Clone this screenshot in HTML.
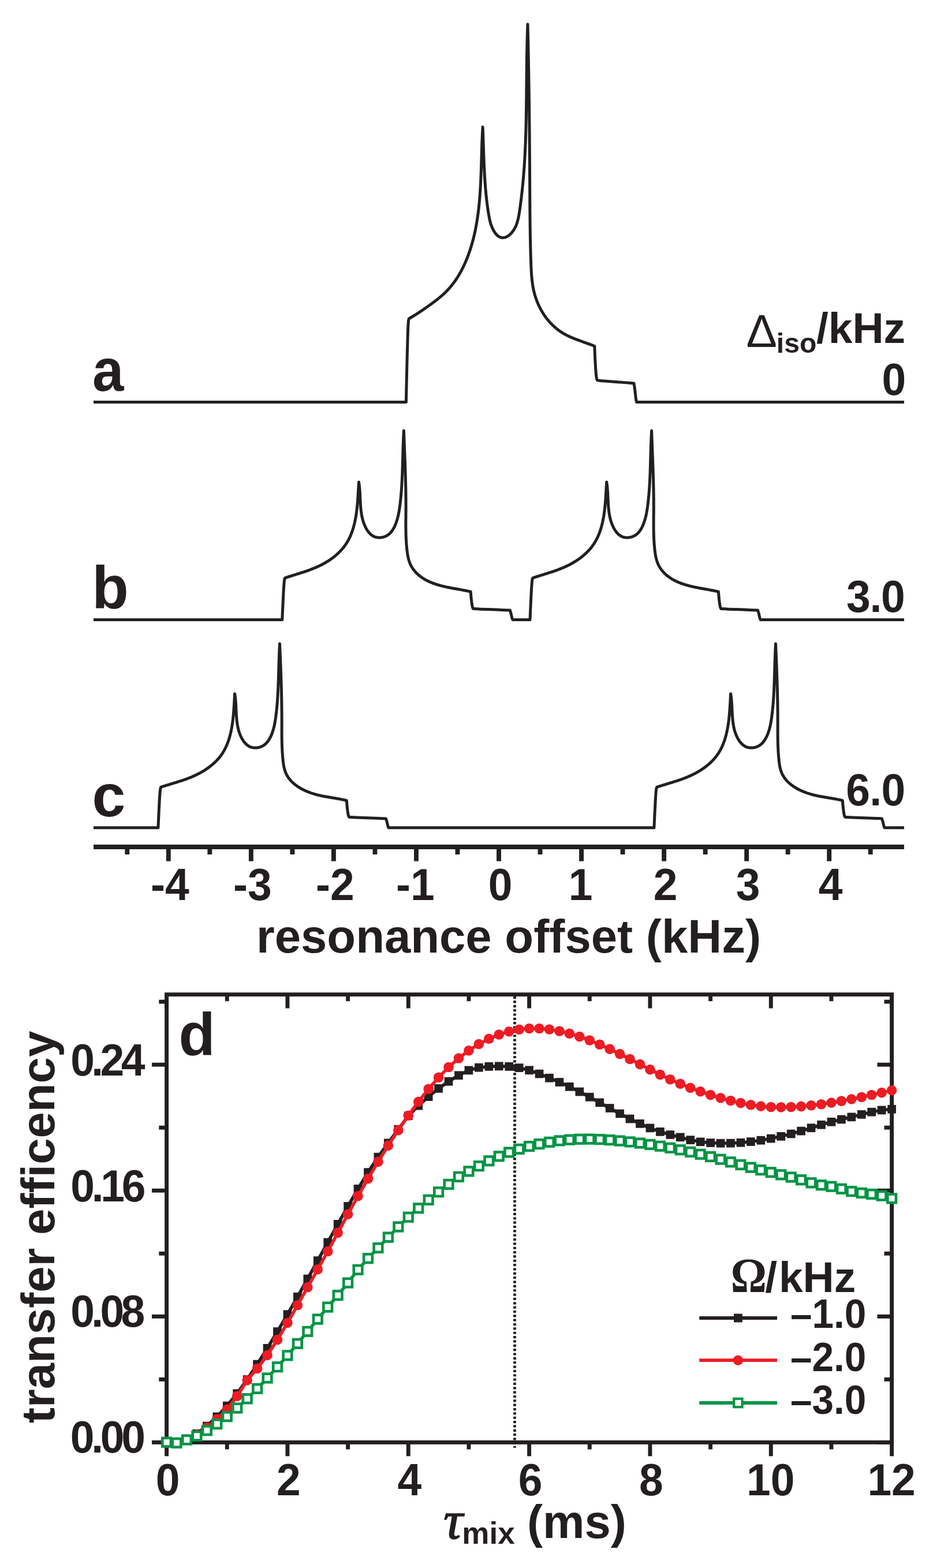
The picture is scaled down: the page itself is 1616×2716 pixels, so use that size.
<!DOCTYPE html><html><head><meta charset="utf-8"><title>Figure</title><style>html,body{margin:0;padding:0;background:#fff;overflow:hidden;}svg{display:block;}</style></head><body>
<svg width="1616" height="2716" viewBox="0 0 1616 2716">
<rect width="1616" height="2716" fill="#fff"/>
<path d="M162 696.6L703.4 696.6C703.55 689.83 703.98 669.77 704.3 656C704.62 642.23 704.97 626.83 705.3 614C705.63 601.17 705.97 588.33 706.3 579C706.63 569.67 706.97 562.5 707.3 558C707.63 553.5 708.13 553 708.3 552L709.6 551.25L710.89 550.5L712.18 549.74L713.46 548.97L714.74 548.2L716.02 547.42L717.29 546.63L718.56 545.84L719.83 545.04L721.09 544.24L722.35 543.43L723.61 542.61L724.87 541.79L726.12 540.96L727.38 540.13L728.63 539.3L729.88 538.46L731.12 537.61L732.37 536.76L733.61 535.91L734.86 535.05L736.1 534.19L737.34 533.32L738.58 532.46L739.83 531.58L741.07 530.71L742.31 529.83L743.55 528.95L744.78 528.06L746.02 527.17L747.26 526.28L748.49 525.38L749.72 524.48L750.94 523.57L752.16 522.65L753.38 521.73L754.59 520.81L755.8 519.88L757 518.94L758.19 517.99L759.38 517.04L760.56 516.08L761.73 515.11L762.89 514.13L764.05 513.14L765.19 512.15L766.33 511.15L767.45 510.13L768.57 509.11L769.67 508.08L770.76 507.04L771.84 505.98L772.91 504.92L773.97 503.84L775.01 502.76L776.04 501.66L777.05 500.55L778.06 499.43L779.05 498.3L780.02 497.16L780.99 496.02L781.94 494.86L782.88 493.69L783.81 492.51L784.73 491.32L785.63 490.12L786.52 488.91L787.4 487.7L788.27 486.47L789.12 485.24L789.97 484L790.8 482.75L791.62 481.49L792.43 480.23L793.23 478.95L794.02 477.67L794.8 476.39L795.56 475.09L796.32 473.79L797.06 472.48L797.8 471.16L798.52 469.84L799.23 468.51L799.93 467.18L800.63 465.84L801.31 464.49L801.98 463.14L802.64 461.78L803.29 460.42L803.93 459.06L804.56 457.68L805.19 456.31L805.8 454.93L806.4 453.54L807 452.15L807.58 450.76L808.16 449.36L808.72 447.96L809.28 446.55L809.83 445.14L810.37 443.73L810.9 442.32L811.42 440.9L811.93 439.48L812.44 438.06L812.94 436.64L813.42 435.21L813.9 433.78L814.38 432.35L814.84 430.92L815.3 429.49L815.75 428.05L816.19 426.61L816.62 425.17L817.05 423.73L817.46 422.29L817.88 420.84L818.28 419.39L818.67 417.94L819.06 416.49L819.44 415.04L819.82 413.59L820.19 412.13L820.55 410.67L820.9 409.21L821.25 407.75L821.59 406.29L821.92 404.83L822.24 403.36L822.57 401.9L822.88 400.43L823.19 398.96L823.49 397.49L823.78 396.01L824.07 394.54L824.35 393.06L824.63 391.59L824.9 390.11L825.17 388.63L825.42 387.15L825.68 385.66L825.93 384.18L826.17 382.7L826.41 381.21L826.64 379.72L826.86 378.24L827.08 376.75L827.3 375.26L827.51 373.76L827.72 372.27L827.92 370.78L828.11 369.28L828.31 367.79L828.49 366.29L828.67 364.79L828.85 363.29L829.03 361.79L829.19 360.29L829.36 358.79L829.52 357.29L829.67 355.79L829.83 354.28L829.97 352.78L830.12 351.27L830.26 349.77L830.39 348.26L830.53 346.75L830.65 345.25L830.78 343.74L830.9 342.23L831.02 340.72L831.14 339.21L831.25 337.7L831.36 336.18L831.46 334.67L831.56 333.16L831.66 331.65L831.76 330.13L831.85 328.62L831.94 327.1L832.03 325.59L832.12 324.07L832.2 322.56L832.28 321.04L832.36 319.53L832.44 318.01L832.51 316.5L832.58 314.98L832.65 313.46L832.72 311.95L832.79 310.43L832.85 308.91L832.91 307.39L832.97 305.88L833.03 304.36L833.09 302.84L833.15 301.32L833.2 299.81L833.25 298.29L833.31 296.77L833.36 295.25L833.41 293.74L833.46 292.22L833.5 290.7L833.55 289.19L833.6 287.67L833.64 286.15L833.69 284.64L833.73 283.12L833.78 281.61L833.82 280.09L833.86 278.58L833.91 277.06L833.95 275.55L833.99 274.03L834.03 272.52L834.08 271.01L834.12 269.5L834.16 267.98L834.21 266.47L834.25 264.96L834.29 263.45L834.34 261.94L834.38 260.43L834.43 258.92L834.48 257.42L834.52 255.91L834.57 254.4L834.62 252.9L834.67 251.39L834.72 249.89L834.78 248.39L834.83 246.88L834.89 245.38L834.94 243.88L835 242.38L835.06 240.88L835.12 239.38L835.18 237.89L835.25 236.39L835.32 234.89L835.38 233.4L835.45 231.91L835.53 230.41L835.6 228.92L835.68 227.43L835.76 225.94L835.84 224.46L835.92 222.97L836.01 221.48L836.1 220L836.16 221.51L836.23 223.02L836.29 224.53L836.35 226.04L836.41 227.55L836.46 229.06L836.52 230.57L836.57 232.08L836.63 233.59L836.68 235.09L836.74 236.6L836.79 238.11L836.84 239.62L836.89 241.12L836.94 242.63L836.99 244.14L837.04 245.64L837.09 247.15L837.14 248.66L837.19 250.16L837.24 251.67L837.29 253.17L837.34 254.68L837.39 256.18L837.44 257.69L837.49 259.19L837.54 260.7L837.59 262.2L837.64 263.71L837.69 265.21L837.74 266.71L837.79 268.22L837.84 269.72L837.9 271.22L837.95 272.73L838.01 274.23L838.06 275.73L838.12 277.23L838.18 278.74L838.24 280.24L838.3 281.74L838.36 283.24L838.42 284.74L838.48 286.24L838.55 287.75L838.62 289.25L838.69 290.75L838.76 292.25L838.83 293.75L838.9 295.25L838.98 296.75L839.05 298.25L839.13 299.75L839.21 301.25L839.3 302.75L839.38 304.25L839.47 305.75L839.56 307.25L839.65 308.75L839.74 310.25L839.84 311.74L839.94 313.24L840.04 314.74L840.15 316.24L840.25 317.74L840.36 319.24L840.48 320.73L840.59 322.23L840.71 323.73L840.83 325.23L840.96 326.73L841.08 328.22L841.21 329.72L841.35 331.22L841.49 332.72L841.63 334.21L841.77 335.71L841.92 337.21L842.07 338.71L842.22 340.2L842.38 341.7L842.55 343.2L842.71 344.69L842.88 346.19L843.06 347.69L843.23 349.18L843.42 350.68L843.6 352.18L843.79 353.67L843.99 355.17L844.19 356.66L844.39 358.16L844.6 359.66L844.81 361.15L845.03 362.65L845.25 364.14L845.48 365.64L845.71 367.14L845.95 368.63L846.19 370.13L846.43 371.62L846.69 373.12L846.95 374.61L847.23 376.1L847.52 377.59L847.82 379.08L848.15 380.57L848.49 382.05L848.86 383.52L849.25 384.99L849.67 386.46L850.11 387.92L850.59 389.37L851.1 390.82L851.65 392.25L852.23 393.69L852.85 395.11L853.52 396.52L854.23 397.92L854.98 399.32L855.78 400.69L856.63 402.04L857.52 403.34L858.46 404.59L859.44 405.78L860.46 406.88L861.54 407.9L862.65 408.82L863.81 409.63L865.01 410.31L866.25 410.86L867.53 411.27L868.83 411.55L870.16 411.7L871.5 411.71L872.84 411.6L874.18 411.35L875.52 410.97L876.84 410.46L878.13 409.83L879.41 409.09L880.65 408.26L881.85 407.34L883.01 406.35L884.14 405.31L885.21 404.22L886.23 403.1L887.19 401.95L888.11 400.78L888.98 399.57L889.81 398.35L890.59 397.09L891.33 395.81L892.02 394.51L892.68 393.19L893.3 391.84L893.88 390.48L894.43 389.09L894.95 387.69L895.44 386.28L895.89 384.85L896.32 383.4L896.72 381.94L897.1 380.47L897.46 378.99L897.79 377.5L898.11 376L898.41 374.49L898.69 372.98L898.96 371.46L899.21 369.94L899.46 368.41L899.69 366.88L899.92 365.35L900.14 363.82L900.36 362.3L900.58 360.77L900.79 359.25L901 357.72L901.21 356.2L901.41 354.69L901.61 353.17L901.81 351.66L902.01 350.14L902.2 348.63L902.39 347.12L902.58 345.62L902.77 344.11L902.95 342.6L903.13 341.1L903.31 339.6L903.49 338.1L903.66 336.6L903.83 335.1L904 333.6L904.17 332.1L904.33 330.6L904.49 329.11L904.65 327.61L904.8 326.12L904.96 324.63L905.11 323.14L905.26 321.64L905.41 320.15L905.55 318.66L905.69 317.17L905.83 315.68L905.97 314.19L906.11 312.7L906.24 311.21L906.37 309.72L906.5 308.23L906.63 306.74L906.75 305.25L906.87 303.76L906.99 302.27L907.11 300.78L907.23 299.29L907.34 297.8L907.46 296.31L907.57 294.82L907.67 293.32L907.78 291.83L907.89 290.34L907.99 288.84L908.09 287.35L908.19 285.86L908.29 284.36L908.38 282.87L908.47 281.37L908.57 279.88L908.66 278.38L908.74 276.88L908.83 275.39L908.92 273.89L909 272.39L909.08 270.89L909.16 269.4L909.24 267.9L909.32 266.4L909.39 264.9L909.46 263.4L909.54 261.9L909.61 260.4L909.67 258.9L909.74 257.4L909.81 255.9L909.87 254.4L909.94 252.89L910 251.39L910.06 249.89L910.12 248.39L910.17 246.89L910.23 245.38L910.28 243.88L910.34 242.38L910.39 240.87L910.44 239.37L910.49 237.86L910.54 236.36L910.59 234.86L910.63 233.35L910.68 231.85L910.72 230.34L910.77 228.83L910.81 227.33L910.85 225.82L910.89 224.32L910.93 222.81L910.96 221.3L911 219.8L911.04 218.29L911.07 216.78L911.11 215.28L911.14 213.77L911.17 212.26L911.2 210.75L911.23 209.25L911.26 207.74L911.29 206.23L911.32 204.72L911.35 203.21L911.37 201.7L911.4 200.2L911.42 198.69L911.45 197.18L911.47 195.67L911.49 194.16L911.52 192.65L911.54 191.14L911.56 189.63L911.58 188.12L911.6 186.61L911.62 185.1L911.64 183.59L911.66 182.08L911.67 180.57L911.69 179.06L911.71 177.55L911.73 176.04L911.74 174.53L911.76 173.02L911.77 171.51L911.79 170L911.8 168.49L911.82 166.98L911.83 165.47L911.85 163.96L911.86 162.45L911.88 160.94L911.89 159.43L911.9 157.92L911.92 156.41L911.93 154.9L911.94 153.39L911.96 151.88L911.97 150.37L911.98 148.86L911.99 147.35L912.01 145.84L912.02 144.33L912.03 142.82L912.04 141.31L912.06 139.8L912.07 138.29L912.08 136.78L912.1 135.27L912.11 133.76L912.12 132.25L912.14 130.74L912.15 129.23L912.17 127.72L912.18 126.21L912.19 124.71L912.21 123.2L912.23 121.69L912.24 120.18L912.26 118.67L912.27 117.16L912.29 115.65L912.31 114.15L912.32 112.64L912.34 111.13L912.36 109.62L912.38 108.11L912.4 106.61L912.42 105.1L912.44 103.59L912.46 102.08L912.48 100.58L912.51 99.07L912.53 97.56L912.55 96.06L912.58 94.55L912.6 93.05L912.63 91.54L912.65 90.04L912.68 88.53L912.71 87.03L912.74 85.52L912.77 84.02L912.8 82.51L912.83 81.01L912.86 79.5L912.89 78L912.93 76.5L912.96 74.99L913 73.49L913.03 71.99L913.07 70.49L913.11 68.98L913.15 67.48L913.19 65.98L913.23 64.48L913.27 62.98L913.32 61.48L913.36 59.98L913.41 58.48L913.46 56.98L913.51 55.48L913.56 53.98L913.61 52.48L913.66 50.98L913.71 49.49L913.77 47.99L913.82 46.49L913.88 44.99L913.94 43.5L914 42L914.04 43.5L914.07 45.01L914.11 46.51L914.14 48.01L914.18 49.51L914.22 51.02L914.25 52.52L914.28 54.02L914.32 55.53L914.35 57.03L914.39 58.53L914.42 60.04L914.46 61.54L914.49 63.05L914.52 64.55L914.56 66.05L914.59 67.56L914.62 69.06L914.65 70.57L914.69 72.07L914.72 73.58L914.75 75.08L914.78 76.58L914.81 78.09L914.84 79.59L914.88 81.1L914.91 82.6L914.94 84.11L914.97 85.61L915 87.12L915.03 88.62L915.06 90.13L915.09 91.64L915.12 93.14L915.15 94.65L915.17 96.15L915.2 97.66L915.23 99.16L915.26 100.67L915.29 102.18L915.32 103.68L915.34 105.19L915.37 106.69L915.4 108.2L915.43 109.71L915.45 111.21L915.48 112.72L915.51 114.22L915.53 115.73L915.56 117.24L915.59 118.74L915.61 120.25L915.64 121.76L915.66 123.26L915.69 124.77L915.71 126.28L915.74 127.78L915.76 129.29L915.79 130.8L915.81 132.3L915.84 133.81L915.86 135.32L915.89 136.83L915.91 138.33L915.93 139.84L915.96 141.35L915.98 142.85L916 144.36L916.02 145.87L916.05 147.37L916.07 148.88L916.09 150.39L916.11 151.9L916.14 153.4L916.16 154.91L916.18 156.42L916.2 157.93L916.22 159.43L916.24 160.94L916.26 162.45L916.28 163.96L916.31 165.46L916.33 166.97L916.35 168.48L916.37 169.99L916.39 171.49L916.41 173L916.43 174.51L916.44 176.02L916.46 177.52L916.48 179.03L916.5 180.54L916.52 182.05L916.54 183.55L916.56 185.06L916.58 186.57L916.59 188.08L916.61 189.58L916.63 191.09L916.65 192.6L916.66 194.11L916.68 195.61L916.7 197.12L916.72 198.63L916.73 200.13L916.75 201.64L916.77 203.15L916.78 204.66L916.8 206.16L916.81 207.67L916.83 209.18L916.85 210.69L916.86 212.19L916.88 213.7L916.89 215.21L916.91 216.71L916.92 218.22L916.94 219.73L916.95 221.24L916.97 222.74L916.98 224.25L917 225.76L917.01 227.26L917.02 228.77L917.04 230.28L917.05 231.78L917.07 233.29L917.08 234.8L917.09 236.3L917.11 237.81L917.12 239.32L917.13 240.82L917.14 242.33L917.16 243.84L917.17 245.34L917.18 246.85L917.19 248.36L917.21 249.86L917.22 251.37L917.23 252.87L917.24 254.38L917.25 255.89L917.27 257.39L917.28 258.9L917.29 260.4L917.3 261.91L917.31 263.42L917.32 264.92L917.33 266.43L917.34 267.93L917.35 269.44L917.36 270.94L917.37 272.45L917.38 273.95L917.39 275.46L917.4 276.96L917.41 278.47L917.42 279.97L917.43 281.48L917.44 282.98L917.45 284.49L917.46 285.99L917.47 287.5L917.48 289L917.49 290.51L917.49 292.01L917.5 293.51L917.51 295.02L917.52 296.52L917.53 298.03L917.54 299.53L917.54 301.03L917.55 302.54L917.56 304.04L917.57 305.54L917.58 307.05L917.58 308.55L917.59 310.05L917.6 311.56L917.6 313.06L917.61 314.56L917.62 316.07L917.63 317.57L917.63 319.07L917.64 320.57L917.65 322.08L917.65 323.58L917.66 325.08L917.67 326.58L917.67 328.08L917.68 329.59L917.69 331.09L917.69 332.59L917.7 334.09L917.71 335.59L917.72 337.1L917.72 338.6L917.73 340.1L917.74 341.6L917.75 343.1L917.75 344.61L917.76 346.11L917.77 347.61L917.78 349.11L917.79 350.61L917.8 352.12L917.81 353.62L917.82 355.12L917.83 356.62L917.84 358.12L917.85 359.63L917.86 361.13L917.87 362.63L917.88 364.13L917.89 365.64L917.9 367.14L917.91 368.64L917.93 370.14L917.94 371.65L917.95 373.15L917.97 374.65L917.98 376.16L917.99 377.66L918.01 379.16L918.03 380.67L918.04 382.17L918.06 383.67L918.07 385.18L918.09 386.68L918.11 388.19L918.13 389.69L918.15 391.19L918.17 392.7L918.19 394.2L918.21 395.71L918.23 397.21L918.25 398.72L918.27 400.22L918.3 401.73L918.32 403.24L918.34 404.74L918.37 406.25L918.39 407.75L918.42 409.26L918.45 410.77L918.48 412.28L918.5 413.78L918.53 415.29L918.56 416.8L918.59 418.31L918.62 419.81L918.66 421.32L918.69 422.83L918.72 424.34L918.76 425.85L918.79 427.36L918.83 428.87L918.87 430.38L918.91 431.89L918.94 433.4L918.98 434.91L919.02 436.42L919.07 437.93L919.11 439.45L919.15 440.96L919.2 442.47L919.24 443.98L919.29 445.5L919.34 447.01L919.38 448.52L919.43 450.04L919.48 451.55L919.53 453.07L919.59 454.58L919.64 456.1L919.7 457.61L919.75 459.13L919.81 460.65L919.87 462.16L919.94 463.68L920.01 465.19L920.08 466.71L920.16 468.22L920.24 469.74L920.33 471.25L920.42 472.76L920.52 474.27L920.63 475.78L920.75 477.29L920.87 478.8L921 480.3L921.14 481.81L921.29 483.31L921.45 484.81L921.62 486.31L921.8 487.8L922 489.3L922.2 490.79L922.42 492.28L922.64 493.76L922.89 495.25L923.14 496.73L923.41 498.2L923.69 499.68L923.99 501.15L924.3 502.62L924.63 504.08L924.98 505.54L925.34 507L925.72 508.45L926.12 509.9L926.53 511.35L926.96 512.79L927.41 514.23L927.88 515.66L928.36 517.08L928.86 518.5L929.38 519.92L929.92 521.32L930.47 522.72L931.03 524.12L931.62 525.51L932.22 526.89L932.84 528.26L933.47 529.63L934.12 530.98L934.79 532.33L935.47 533.67L936.17 535.01L936.89 536.33L937.62 537.64L938.37 538.95L939.13 540.24L939.91 541.52L940.71 542.8L941.52 544.06L942.35 545.31L943.19 546.55L944.05 547.78L944.92 549L945.81 550.21L946.72 551.4L947.64 552.58L948.57 553.75L949.52 554.9L950.49 556.05L951.47 557.17L952.46 558.29L953.47 559.39L954.5 560.47L955.54 561.55L956.59 562.6L957.66 563.64L958.74 564.67L959.84 565.68L960.95 566.67L962.08 567.65L963.22 568.61L964.38 569.56L965.55 570.49L966.73 571.4L967.93 572.29L969.14 573.16L970.36 574.02L971.6 574.86L972.86 575.68L974.12 576.48L975.4 577.26L976.69 578.03L978 578.77L979.32 579.49L980.65 580.2L981.99 580.89L983.35 581.56L984.71 582.22L986.08 582.87L987.46 583.49L988.85 584.11L990.25 584.71L991.65 585.31L993.07 585.89L994.48 586.46L995.9 587.02L997.33 587.57L998.75 588.11L1000.19 588.65L1001.62 589.18L1003.06 589.71L1004.49 590.22L1005.93 590.74L1007.37 591.25L1008.8 591.76L1010.24 592.27L1011.67 592.78L1013.1 593.28L1014.52 593.79L1015.95 594.3L1017.36 594.81L1018.77 595.32L1020.18 595.83L1021.58 596.35L1022.97 596.88L1024.36 597.41L1025.73 597.94L1027.1 598.49L1028.45 599.04L1029.8 599.6C1029.97 603.62 1030.37 615.63 1030.8 623.7C1031.23 631.77 1031.93 642.53 1032.4 648C1032.87 653.47 1033.23 654.7 1033.6 656.5C1033.97 658.3 1034.43 658.42 1034.6 658.8C1036.67 659.02 1041.57 659.67 1047 660.1C1052.43 660.53 1060.47 660.9 1067.2 661.4C1073.93 661.9 1082.28 662.67 1087.4 663.1C1092.52 663.53 1096.15 663.85 1097.9 664C1098.17 665.7 1098.92 669.78 1099.5 674.2C1100.08 678.62 1100.88 686.77 1101.4 690.5C1101.92 694.23 1102.4 695.58 1102.6 696.6L1566 696.6" fill="none" stroke="#231f20" stroke-width="5" stroke-linejoin="round"/>
<path d="M162 1073.4L488.8 1073.4C488.95 1070.02 489.38 1059.98 489.7 1053.1C490.02 1046.22 490.37 1038.52 490.7 1032.1C491.03 1025.68 491.37 1019.27 491.7 1014.6C492.03 1009.93 492.37 1006.35 492.7 1004.1C493.03 1001.85 493.53 1001.6 493.7 1001.1L495.12 1000.62L496.55 1000.15L497.97 999.68L499.4 999.21L500.83 998.75L502.26 998.29L503.7 997.84L505.14 997.38L506.57 996.93L508.01 996.48L509.45 996.03L510.89 995.58L512.34 995.13L513.78 994.68L515.22 994.23L516.66 993.78L518.1 993.32L519.55 992.86L520.99 992.4L522.43 991.94L523.87 991.47L525.3 991L526.74 990.52L528.17 990.04L529.61 989.56L531.04 989.06L532.47 988.56L533.89 988.06L535.32 987.54L536.74 987.02L538.16 986.49L539.57 985.95L540.98 985.41L542.39 984.85L543.79 984.28L545.19 983.7L546.59 983.11L547.98 982.51L549.37 981.9L550.75 981.28L552.13 980.64L553.5 979.99L554.86 979.32L556.22 978.64L557.58 977.95L558.93 977.24L560.27 976.52L561.6 975.78L562.93 975.02L564.25 974.25L565.56 973.47L566.87 972.67L568.16 971.85L569.45 971.02L570.72 970.17L571.99 969.31L573.24 968.44L574.48 967.55L575.71 966.64L576.93 965.72L578.13 964.79L579.32 963.84L580.5 962.88L581.66 961.9L582.81 960.91L583.94 959.9L585.05 958.88L586.15 957.84L587.24 956.79L588.3 955.73L589.35 954.65L590.38 953.55L591.39 952.45L592.38 951.33L593.36 950.19L594.31 949.04L595.24 947.88L596.15 946.7L597.04 945.51L597.91 944.31L598.76 943.09L599.58 941.86L600.38 940.61L601.16 939.36L601.92 938.08L602.65 936.8L603.37 935.51L604.06 934.2L604.73 932.88L605.39 931.55L606.02 930.21L606.63 928.86L607.23 927.49L607.81 926.12L608.37 924.74L608.91 923.35L609.43 921.95L609.94 920.54L610.42 919.12L610.9 917.69L611.35 916.26L611.79 914.82L612.22 913.37L612.63 911.91L613.02 910.45L613.4 908.98L613.77 907.5L614.12 906.02L614.46 904.53L614.79 903.04L615.1 901.54L615.4 900.04L615.69 898.53L615.97 897.02L616.23 895.5L616.49 893.98L616.73 892.46L616.97 890.93L617.19 889.4L617.4 887.87L617.61 886.34L617.8 884.81L617.99 883.27L618.17 881.73L618.34 880.2L618.51 878.66L618.66 877.12L618.81 875.58L618.95 874.04L619.09 872.5L619.22 870.97L619.35 869.43L619.47 867.89L619.58 866.36L619.69 864.83L619.8 863.3L619.9 861.78L620 860.25L620.1 858.73L620.19 857.22L620.28 855.71L620.37 854.2L620.46 852.69L620.54 851.19L620.63 849.7L620.71 848.21L620.8 846.73L620.88 845.25L620.97 843.78L621.05 842.32L621.14 840.86L621.23 839.41L621.31 837.96L621.41 836.53L621.5 835.1L621.74 836.57L621.96 838.04L622.16 839.52L622.34 841L622.51 842.48L622.67 843.97L622.81 845.46L622.94 846.96L623.06 848.46L623.16 849.96L623.26 851.46L623.35 852.97L623.44 854.48L623.52 855.99L623.59 857.5L623.66 859.02L623.73 860.53L623.79 862.05L623.86 863.56L623.92 865.08L623.99 866.6L624.06 868.12L624.14 869.64L624.21 871.15L624.3 872.67L624.39 874.18L624.49 875.7L624.6 877.21L624.72 878.72L624.85 880.23L625 881.74L625.15 883.24L625.32 884.74L625.51 886.24L625.72 887.74L625.94 889.23L626.18 890.72L626.44 892.2L626.72 893.68L627.02 895.16L627.35 896.63L627.7 898.1L628.08 899.56L628.48 901.02L628.91 902.47L629.37 903.91L629.86 905.35L630.38 906.79L630.93 908.21L631.51 909.63L632.13 911.04L632.78 912.45L633.47 913.83L634.19 915.2L634.95 916.54L635.75 917.86L636.58 919.13L637.46 920.37L638.37 921.57L639.32 922.72L640.31 923.81L641.35 924.85L642.42 925.82L643.54 926.73L644.7 927.56L645.91 928.32L647.16 928.99L648.45 929.58L649.79 930.08L651.17 930.48L652.6 930.79L654.05 931.01L655.53 931.13L657.03 931.17L658.53 931.12L660.04 930.98L661.54 930.76L663.04 930.45L664.51 930.06L665.96 929.6L667.37 929.06L668.74 928.44L670.07 927.74L671.34 926.98L672.55 926.14L673.71 925.24L674.82 924.27L675.88 923.25L676.88 922.17L677.84 921.05L678.76 919.87L679.63 918.66L680.45 917.4L681.24 916.11L681.99 914.78L682.7 913.43L683.38 912.06L684.02 910.66L684.63 909.25L685.21 907.83L685.76 906.4L686.29 904.96L686.79 903.51L687.26 902.07L687.71 900.62L688.14 899.16L688.54 897.7L688.93 896.24L689.29 894.77L689.64 893.3L689.97 891.83L690.28 890.35L690.57 888.87L690.85 887.39L691.12 885.91L691.37 884.42L691.61 882.93L691.84 881.44L692.06 879.95L692.27 878.46L692.47 876.97L692.67 875.47L692.86 873.98L693.04 872.48L693.22 870.99L693.39 869.49L693.56 867.99L693.72 866.5L693.88 865L694.03 863.5L694.18 862L694.32 860.51L694.46 859.01L694.6 857.51L694.73 856.01L694.85 854.51L694.97 853.01L695.09 851.51L695.21 850.01L695.32 848.51L695.42 847L695.53 845.5L695.63 844L695.72 842.5L695.81 840.99L695.9 839.49L695.99 837.99L696.07 836.48L696.15 834.98L696.23 833.48L696.31 831.97L696.38 830.47L696.45 828.96L696.52 827.46L696.58 825.95L696.65 824.45L696.71 822.94L696.77 821.44L696.82 819.93L696.88 818.43L696.93 816.92L696.98 815.41L697.03 813.91L697.08 812.4L697.13 810.89L697.18 809.39L697.22 807.88L697.27 806.37L697.31 804.86L697.35 803.36L697.4 801.85L697.44 800.34L697.48 798.84L697.52 797.33L697.56 795.82L697.6 794.31L697.64 792.81L697.68 791.3L697.72 789.79L697.76 788.28L697.8 786.78L697.85 785.27L697.89 783.76L697.93 782.25L697.97 780.74L698.02 779.24L698.06 777.73L698.11 776.22L698.16 774.72L698.2 773.21L698.25 771.7L698.3 770.19L698.36 768.69L698.41 767.18L698.47 765.67L698.53 764.17L698.59 762.66L698.65 761.15L698.71 759.65L698.78 758.14L698.85 756.64L698.92 755.13L698.99 753.62L699.07 752.12L699.15 750.61L699.23 749.11L699.31 747.6L699.4 746.1L699.45 747.61L699.51 749.12L699.56 750.63L699.61 752.14L699.67 753.65L699.72 755.16L699.78 756.67L699.83 758.18L699.89 759.69L699.95 761.2L700 762.71L700.06 764.21L700.12 765.72L700.17 767.23L700.23 768.74L700.29 770.25L700.35 771.76L700.4 773.27L700.46 774.77L700.52 776.28L700.58 777.79L700.63 779.3L700.69 780.81L700.75 782.31L700.81 783.82L700.87 785.33L700.92 786.84L700.98 788.35L701.04 789.85L701.09 791.36L701.15 792.87L701.21 794.38L701.26 795.88L701.32 797.39L701.37 798.9L701.43 800.41L701.48 801.91L701.54 803.42L701.59 804.93L701.64 806.44L701.7 807.94L701.75 809.45L701.8 810.96L701.85 812.47L701.9 813.97L701.95 815.48L702 816.99L702.05 818.5L702.09 820L702.14 821.51L702.19 823.02L702.23 824.53L702.27 826.03L702.32 827.54L702.36 829.05L702.4 830.56L702.44 832.06L702.48 833.57L702.52 835.08L702.56 836.59L702.59 838.1L702.63 839.6L702.66 841.11L702.69 842.62L702.73 844.13L702.76 845.64L702.79 847.15L702.81 848.66L702.84 850.16L702.87 851.67L702.89 853.18L702.91 854.69L702.93 856.2L702.95 857.71L702.97 859.22L702.99 860.73L703 862.24L703.02 863.75L703.03 865.26L703.04 866.77L703.05 868.28L703.06 869.79L703.06 871.3L703.07 872.81L703.07 874.32L703.07 875.83L703.07 877.34L703.07 878.85L703.06 880.37L703.06 881.88L703.05 883.39L703.04 884.9L703.03 886.41L703.02 887.93L703 889.44L702.99 890.95L702.98 892.46L702.97 893.97L702.95 895.49L702.94 897L702.93 898.51L702.92 900.03L702.91 901.54L702.9 903.05L702.9 904.56L702.89 906.08L702.89 907.59L702.89 909.1L702.89 910.61L702.9 912.13L702.91 913.64L702.92 915.15L702.94 916.66L702.96 918.18L702.98 919.69L703.01 921.2L703.04 922.71L703.07 924.22L703.11 925.74L703.16 927.25L703.21 928.76L703.27 930.27L703.33 931.78L703.4 933.29L703.47 934.8L703.56 936.31L703.64 937.82L703.74 939.33L703.84 940.84L703.95 942.35L704.07 943.86L704.19 945.36L704.33 946.87L704.47 948.38L704.62 949.89L704.77 951.39L704.94 952.9L705.12 954.41L705.31 955.91L705.51 957.41L705.73 958.91L705.96 960.4L706.21 961.89L706.49 963.37L706.79 964.84L707.11 966.3L707.46 967.76L707.83 969.2L708.24 970.62L708.68 972.04L709.15 973.44L709.66 974.83L710.21 976.19L710.8 977.54L711.43 978.87L712.1 980.19L712.82 981.48L713.58 982.75L714.38 984L715.21 985.23L716.08 986.43L716.99 987.62L717.94 988.78L718.91 989.92L719.92 991.04L720.96 992.13L722.03 993.2L723.12 994.24L724.25 995.27L725.39 996.26L726.57 997.23L727.76 998.18L728.98 999.1L730.22 1000L731.47 1000.86L732.74 1001.71L734.03 1002.52L735.34 1003.31L736.66 1004.07L737.99 1004.81L739.33 1005.52L740.69 1006.2L742.06 1006.87L743.44 1007.51L744.83 1008.12L746.23 1008.72L747.64 1009.3L749.06 1009.85L750.48 1010.39L751.91 1010.9L753.35 1011.4L754.79 1011.89L756.24 1012.35L757.69 1012.8L759.15 1013.24L760.61 1013.66L762.07 1014.06L763.53 1014.45L764.99 1014.84L766.46 1015.2L767.93 1015.56L769.39 1015.91L770.86 1016.25L772.33 1016.58L773.8 1016.9L775.27 1017.21L776.75 1017.51L778.22 1017.81L779.7 1018.1L781.17 1018.39L782.65 1018.67L784.12 1018.94L785.6 1019.22L787.08 1019.49L788.56 1019.76L790.04 1020.02L791.52 1020.29L793 1020.55L794.48 1020.82L795.96 1021.08L797.44 1021.35L798.92 1021.62L800.4 1021.89L801.88 1022.17L803.36 1022.45L804.84 1022.73L806.32 1023.02L807.8 1023.31L809.28 1023.62L810.76 1023.92L812.24 1024.24L813.72 1024.57L815.2 1024.9C815.37 1026.91 815.77 1032.92 816.2 1036.95C816.63 1040.98 817.33 1046.37 817.8 1049.1C818.27 1051.83 818.63 1052.45 819 1053.35C819.37 1054.25 819.83 1054.31 820 1054.5C822.07 1054.61 826.97 1054.93 832.4 1055.15C837.83 1055.37 845.87 1055.55 852.6 1055.8C859.33 1056.05 867.68 1056.43 872.8 1056.65C877.92 1056.87 881.55 1057.03 883.3 1057.1C883.57 1057.95 884.32 1059.99 884.9 1062.2C885.48 1064.41 886.28 1068.48 886.8 1070.35C887.32 1072.22 887.8 1072.89 888 1073.4L918 1073.4C918.15 1070.02 918.58 1059.98 918.9 1053.1C919.22 1046.22 919.57 1038.52 919.9 1032.1C920.23 1025.68 920.57 1019.27 920.9 1014.6C921.23 1009.93 921.57 1006.35 921.9 1004.1C922.23 1001.85 922.73 1001.6 922.9 1001.1L924.32 1000.62L925.75 1000.15L927.17 999.68L928.6 999.21L930.03 998.75L931.46 998.29L932.9 997.84L934.34 997.38L935.77 996.93L937.21 996.48L938.65 996.03L940.09 995.58L941.54 995.13L942.98 994.68L944.42 994.23L945.86 993.78L947.3 993.32L948.75 992.86L950.19 992.4L951.63 991.94L953.07 991.47L954.5 991L955.94 990.52L957.37 990.04L958.81 989.56L960.24 989.06L961.67 988.56L963.09 988.06L964.52 987.54L965.94 987.02L967.36 986.49L968.77 985.95L970.18 985.41L971.59 984.85L972.99 984.28L974.39 983.7L975.79 983.11L977.18 982.51L978.57 981.9L979.95 981.28L981.33 980.64L982.7 979.99L984.06 979.32L985.42 978.64L986.78 977.95L988.13 977.24L989.47 976.52L990.8 975.78L992.13 975.02L993.45 974.25L994.76 973.47L996.07 972.67L997.36 971.85L998.65 971.02L999.92 970.17L1001.19 969.31L1002.44 968.44L1003.68 967.55L1004.91 966.64L1006.13 965.72L1007.33 964.79L1008.52 963.84L1009.7 962.88L1010.86 961.9L1012.01 960.91L1013.14 959.9L1014.25 958.88L1015.35 957.84L1016.44 956.79L1017.5 955.73L1018.55 954.65L1019.58 953.55L1020.59 952.45L1021.58 951.33L1022.56 950.19L1023.51 949.04L1024.44 947.88L1025.35 946.7L1026.24 945.51L1027.11 944.31L1027.96 943.09L1028.78 941.86L1029.58 940.61L1030.36 939.36L1031.12 938.08L1031.85 936.8L1032.57 935.51L1033.26 934.2L1033.93 932.88L1034.59 931.55L1035.22 930.21L1035.83 928.86L1036.43 927.49L1037.01 926.12L1037.57 924.74L1038.11 923.35L1038.63 921.95L1039.14 920.54L1039.62 919.12L1040.1 917.69L1040.55 916.26L1040.99 914.82L1041.42 913.37L1041.83 911.91L1042.22 910.45L1042.6 908.98L1042.97 907.5L1043.32 906.02L1043.66 904.53L1043.99 903.04L1044.3 901.54L1044.6 900.04L1044.89 898.53L1045.17 897.02L1045.43 895.5L1045.69 893.98L1045.93 892.46L1046.17 890.93L1046.39 889.4L1046.6 887.87L1046.81 886.34L1047 884.81L1047.19 883.27L1047.37 881.73L1047.54 880.2L1047.71 878.66L1047.86 877.12L1048.01 875.58L1048.15 874.04L1048.29 872.5L1048.42 870.97L1048.55 869.43L1048.67 867.89L1048.78 866.36L1048.89 864.83L1049 863.3L1049.1 861.78L1049.2 860.25L1049.3 858.73L1049.39 857.22L1049.48 855.71L1049.57 854.2L1049.66 852.69L1049.74 851.19L1049.83 849.7L1049.91 848.21L1050 846.73L1050.08 845.25L1050.17 843.78L1050.25 842.32L1050.34 840.86L1050.43 839.41L1050.51 837.96L1050.61 836.53L1050.7 835.1L1050.94 836.57L1051.16 838.04L1051.36 839.52L1051.54 841L1051.71 842.48L1051.87 843.97L1052.01 845.46L1052.14 846.96L1052.26 848.46L1052.36 849.96L1052.46 851.46L1052.55 852.97L1052.64 854.48L1052.72 855.99L1052.79 857.5L1052.86 859.02L1052.93 860.53L1052.99 862.05L1053.06 863.56L1053.12 865.08L1053.19 866.6L1053.26 868.12L1053.34 869.64L1053.41 871.15L1053.5 872.67L1053.59 874.18L1053.69 875.7L1053.8 877.21L1053.92 878.72L1054.05 880.23L1054.2 881.74L1054.35 883.24L1054.52 884.74L1054.71 886.24L1054.92 887.74L1055.14 889.23L1055.38 890.72L1055.64 892.2L1055.92 893.68L1056.22 895.16L1056.55 896.63L1056.9 898.1L1057.28 899.56L1057.68 901.02L1058.11 902.47L1058.57 903.91L1059.06 905.35L1059.58 906.79L1060.13 908.21L1060.71 909.63L1061.33 911.04L1061.98 912.45L1062.67 913.83L1063.39 915.2L1064.15 916.54L1064.95 917.86L1065.78 919.13L1066.66 920.37L1067.57 921.57L1068.52 922.72L1069.51 923.81L1070.55 924.85L1071.62 925.82L1072.74 926.73L1073.9 927.56L1075.11 928.32L1076.36 928.99L1077.65 929.58L1078.99 930.08L1080.37 930.48L1081.8 930.79L1083.25 931.01L1084.73 931.13L1086.23 931.17L1087.73 931.12L1089.24 930.98L1090.74 930.76L1092.24 930.45L1093.71 930.06L1095.16 929.6L1096.57 929.06L1097.94 928.44L1099.27 927.74L1100.54 926.98L1101.75 926.14L1102.91 925.24L1104.02 924.27L1105.08 923.25L1106.08 922.17L1107.04 921.05L1107.96 919.87L1108.83 918.66L1109.65 917.4L1110.44 916.11L1111.19 914.78L1111.9 913.43L1112.58 912.06L1113.22 910.66L1113.83 909.25L1114.41 907.83L1114.96 906.4L1115.49 904.96L1115.99 903.51L1116.46 902.07L1116.91 900.62L1117.34 899.16L1117.74 897.7L1118.13 896.24L1118.49 894.77L1118.84 893.3L1119.17 891.83L1119.48 890.35L1119.77 888.87L1120.05 887.39L1120.32 885.91L1120.57 884.42L1120.81 882.93L1121.04 881.44L1121.26 879.95L1121.47 878.46L1121.67 876.97L1121.87 875.47L1122.06 873.98L1122.24 872.48L1122.42 870.99L1122.59 869.49L1122.76 867.99L1122.92 866.5L1123.08 865L1123.23 863.5L1123.38 862L1123.52 860.51L1123.66 859.01L1123.8 857.51L1123.93 856.01L1124.05 854.51L1124.17 853.01L1124.29 851.51L1124.41 850.01L1124.52 848.51L1124.62 847L1124.73 845.5L1124.83 844L1124.92 842.5L1125.01 840.99L1125.1 839.49L1125.19 837.99L1125.27 836.48L1125.35 834.98L1125.43 833.48L1125.51 831.97L1125.58 830.47L1125.65 828.96L1125.72 827.46L1125.78 825.95L1125.85 824.45L1125.91 822.94L1125.97 821.44L1126.02 819.93L1126.08 818.43L1126.13 816.92L1126.18 815.41L1126.23 813.91L1126.28 812.4L1126.33 810.89L1126.38 809.39L1126.42 807.88L1126.47 806.37L1126.51 804.86L1126.55 803.36L1126.6 801.85L1126.64 800.34L1126.68 798.84L1126.72 797.33L1126.76 795.82L1126.8 794.31L1126.84 792.81L1126.88 791.3L1126.92 789.79L1126.96 788.28L1127 786.78L1127.05 785.27L1127.09 783.76L1127.13 782.25L1127.17 780.74L1127.22 779.24L1127.26 777.73L1127.31 776.22L1127.36 774.72L1127.4 773.21L1127.45 771.7L1127.5 770.19L1127.56 768.69L1127.61 767.18L1127.67 765.67L1127.73 764.17L1127.79 762.66L1127.85 761.15L1127.91 759.65L1127.98 758.14L1128.05 756.64L1128.12 755.13L1128.19 753.62L1128.27 752.12L1128.35 750.61L1128.43 749.11L1128.51 747.6L1128.6 746.1L1128.65 747.61L1128.71 749.12L1128.76 750.63L1128.81 752.14L1128.87 753.65L1128.92 755.16L1128.98 756.67L1129.03 758.18L1129.09 759.69L1129.15 761.2L1129.2 762.71L1129.26 764.21L1129.32 765.72L1129.37 767.23L1129.43 768.74L1129.49 770.25L1129.55 771.76L1129.6 773.27L1129.66 774.77L1129.72 776.28L1129.78 777.79L1129.83 779.3L1129.89 780.81L1129.95 782.31L1130.01 783.82L1130.07 785.33L1130.12 786.84L1130.18 788.35L1130.24 789.85L1130.29 791.36L1130.35 792.87L1130.41 794.38L1130.46 795.88L1130.52 797.39L1130.57 798.9L1130.63 800.41L1130.68 801.91L1130.74 803.42L1130.79 804.93L1130.84 806.44L1130.9 807.94L1130.95 809.45L1131 810.96L1131.05 812.47L1131.1 813.97L1131.15 815.48L1131.2 816.99L1131.25 818.5L1131.29 820L1131.34 821.51L1131.39 823.02L1131.43 824.53L1131.47 826.03L1131.52 827.54L1131.56 829.05L1131.6 830.56L1131.64 832.06L1131.68 833.57L1131.72 835.08L1131.76 836.59L1131.79 838.1L1131.83 839.6L1131.86 841.11L1131.89 842.62L1131.93 844.13L1131.96 845.64L1131.99 847.15L1132.01 848.66L1132.04 850.16L1132.07 851.67L1132.09 853.18L1132.11 854.69L1132.13 856.2L1132.15 857.71L1132.17 859.22L1132.19 860.73L1132.2 862.24L1132.22 863.75L1132.23 865.26L1132.24 866.77L1132.25 868.28L1132.26 869.79L1132.26 871.3L1132.27 872.81L1132.27 874.32L1132.27 875.83L1132.27 877.34L1132.27 878.85L1132.26 880.37L1132.26 881.88L1132.25 883.39L1132.24 884.9L1132.23 886.41L1132.22 887.93L1132.2 889.44L1132.19 890.95L1132.18 892.46L1132.17 893.97L1132.15 895.49L1132.14 897L1132.13 898.51L1132.12 900.03L1132.11 901.54L1132.1 903.05L1132.1 904.56L1132.09 906.08L1132.09 907.59L1132.09 909.1L1132.09 910.61L1132.1 912.13L1132.11 913.64L1132.12 915.15L1132.14 916.66L1132.16 918.18L1132.18 919.69L1132.21 921.2L1132.24 922.71L1132.27 924.22L1132.31 925.74L1132.36 927.25L1132.41 928.76L1132.47 930.27L1132.53 931.78L1132.6 933.29L1132.67 934.8L1132.76 936.31L1132.84 937.82L1132.94 939.33L1133.04 940.84L1133.15 942.35L1133.27 943.86L1133.39 945.36L1133.53 946.87L1133.67 948.38L1133.82 949.89L1133.97 951.39L1134.14 952.9L1134.32 954.41L1134.51 955.91L1134.71 957.41L1134.93 958.91L1135.16 960.4L1135.41 961.89L1135.69 963.37L1135.99 964.84L1136.31 966.3L1136.66 967.76L1137.03 969.2L1137.44 970.62L1137.88 972.04L1138.35 973.44L1138.86 974.83L1139.41 976.19L1140 977.54L1140.63 978.87L1141.3 980.19L1142.02 981.48L1142.78 982.75L1143.58 984L1144.41 985.23L1145.28 986.43L1146.19 987.62L1147.14 988.78L1148.11 989.92L1149.12 991.04L1150.16 992.13L1151.23 993.2L1152.32 994.24L1153.45 995.27L1154.59 996.26L1155.77 997.23L1156.96 998.18L1158.18 999.1L1159.42 1000L1160.67 1000.86L1161.94 1001.71L1163.23 1002.52L1164.54 1003.31L1165.86 1004.07L1167.19 1004.81L1168.53 1005.52L1169.89 1006.2L1171.26 1006.87L1172.64 1007.51L1174.03 1008.12L1175.43 1008.72L1176.84 1009.3L1178.26 1009.85L1179.68 1010.39L1181.11 1010.9L1182.55 1011.4L1183.99 1011.89L1185.44 1012.35L1186.89 1012.8L1188.35 1013.24L1189.81 1013.66L1191.27 1014.06L1192.73 1014.45L1194.19 1014.84L1195.66 1015.2L1197.13 1015.56L1198.59 1015.91L1200.06 1016.25L1201.53 1016.58L1203 1016.9L1204.47 1017.21L1205.95 1017.51L1207.42 1017.81L1208.9 1018.1L1210.37 1018.39L1211.85 1018.67L1213.32 1018.94L1214.8 1019.22L1216.28 1019.49L1217.76 1019.76L1219.24 1020.02L1220.72 1020.29L1222.2 1020.55L1223.68 1020.82L1225.16 1021.08L1226.64 1021.35L1228.12 1021.62L1229.6 1021.89L1231.08 1022.17L1232.56 1022.45L1234.04 1022.73L1235.52 1023.02L1237 1023.31L1238.48 1023.62L1239.96 1023.92L1241.44 1024.24L1242.92 1024.57L1244.4 1024.9C1244.57 1026.91 1244.97 1032.92 1245.4 1036.95C1245.83 1040.98 1246.53 1046.37 1247 1049.1C1247.47 1051.83 1247.83 1052.45 1248.2 1053.35C1248.57 1054.25 1249.03 1054.31 1249.2 1054.5C1251.27 1054.61 1256.17 1054.93 1261.6 1055.15C1267.03 1055.37 1275.07 1055.55 1281.8 1055.8C1288.53 1056.05 1296.88 1056.43 1302 1056.65C1307.12 1056.87 1310.75 1057.03 1312.5 1057.1C1312.77 1057.95 1313.52 1059.99 1314.1 1062.2C1314.68 1064.41 1315.48 1068.48 1316 1070.35C1316.52 1072.22 1317 1072.89 1317.2 1073.4L1566 1073.4" fill="none" stroke="#231f20" stroke-width="5" stroke-linejoin="round"/>
<path d="M162 1433.8L273.9 1433.8C274.05 1430.5 274.48 1420.73 274.8 1414.03C275.12 1407.32 275.47 1399.82 275.8 1393.57C276.13 1387.32 276.47 1381.07 276.8 1376.53C277.13 1371.98 277.47 1368.49 277.8 1366.3C278.13 1364.11 278.63 1363.87 278.8 1363.38L280.23 1362.91L281.66 1362.45L283.09 1361.99L284.53 1361.54L285.97 1361.08L287.41 1360.64L288.85 1360.19L290.3 1359.74L291.74 1359.3L293.19 1358.86L294.64 1358.42L296.09 1357.98L297.54 1357.54L298.99 1357.1L300.44 1356.65L301.9 1356.21L303.35 1355.76L304.8 1355.31L306.25 1354.86L307.7 1354.41L309.15 1353.95L310.6 1353.48L312.05 1353.02L313.49 1352.54L314.94 1352.06L316.38 1351.58L317.82 1351.09L319.26 1350.59L320.69 1350.08L322.13 1349.57L323.56 1349.04L324.98 1348.51L326.41 1347.97L327.83 1347.42L329.24 1346.86L330.65 1346.29L332.06 1345.7L333.47 1345.11L334.87 1344.5L336.26 1343.89L337.65 1343.25L339.03 1342.61L340.41 1341.95L341.79 1341.28L343.16 1340.59L344.52 1339.89L345.87 1339.17L347.22 1338.43L348.56 1337.68L349.9 1336.92L351.22 1336.14L352.54 1335.35L353.84 1334.54L355.14 1333.71L356.43 1332.87L357.7 1332.02L358.97 1331.15L360.22 1330.26L361.46 1329.36L362.69 1328.45L363.9 1327.52L365.1 1326.57L366.28 1325.61L367.45 1324.64L368.61 1323.65L369.75 1322.64L370.87 1321.62L371.98 1320.59L373.07 1319.54L374.14 1318.47L375.19 1317.4L376.22 1316.3L377.24 1315.19L378.23 1314.07L379.2 1312.93L380.16 1311.78L381.09 1310.61L382 1309.43L382.88 1308.24L383.75 1307.02L384.59 1305.8L385.41 1304.56L386.2 1303.31L386.98 1302.04L387.73 1300.76L388.46 1299.47L389.16 1298.16L389.85 1296.84L390.52 1295.51L391.16 1294.17L391.79 1292.82L392.4 1291.45L392.99 1290.08L393.56 1288.69L394.11 1287.3L394.64 1285.89L395.15 1284.48L395.65 1283.06L396.13 1281.62L396.6 1280.18L397.04 1278.73L397.48 1277.28L397.89 1275.81L398.29 1274.34L398.68 1272.87L399.05 1271.38L399.41 1269.89L399.75 1268.4L400.08 1266.89L400.4 1265.39L400.71 1263.88L401 1262.36L401.28 1260.84L401.55 1259.31L401.8 1257.79L402.05 1256.26L402.28 1254.72L402.51 1253.18L402.73 1251.65L402.93 1250.1L403.13 1248.56L403.32 1247.02L403.49 1245.47L403.67 1243.93L403.83 1242.38L403.99 1240.84L404.13 1239.29L404.28 1237.75L404.41 1236.2L404.54 1234.66L404.67 1233.12L404.79 1231.58L404.9 1230.04L405.01 1228.51L405.11 1226.98L405.22 1225.45L405.31 1223.92L405.41 1222.4L405.5 1220.89L405.59 1219.37L405.68 1217.87L405.76 1216.36L405.85 1214.87L405.93 1213.38L406.01 1211.89L406.09 1210.41L406.18 1208.94L406.26 1207.48L406.34 1206.02L406.43 1204.57L406.51 1203.13L406.6 1201.7L406.84 1203.16L407.07 1204.63L407.27 1206.1L407.46 1207.58L407.63 1209.06L407.79 1210.55L407.93 1212.05L408.06 1213.54L408.18 1215.04L408.29 1216.55L408.39 1218.06L408.48 1219.57L408.56 1221.08L408.64 1222.6L408.71 1224.12L408.79 1225.63L408.85 1227.16L408.92 1228.68L408.99 1230.2L409.06 1231.73L409.13 1233.25L409.21 1234.77L409.29 1236.3L409.37 1237.82L409.47 1239.34L409.57 1240.86L409.68 1242.38L409.8 1243.9L409.93 1245.41L410.08 1246.93L410.24 1248.44L410.41 1249.94L410.61 1251.45L410.81 1252.94L411.04 1254.44L411.29 1255.93L411.56 1257.42L411.85 1258.9L412.16 1260.38L412.5 1261.85L412.86 1263.32L413.25 1264.78L413.67 1266.23L414.12 1267.68L414.6 1269.11L415.11 1270.55L415.65 1271.97L416.22 1273.39L416.83 1274.8L417.48 1276.2L418.16 1277.58L418.88 1278.95L419.63 1280.3L420.43 1281.61L421.26 1282.9L422.13 1284.15L423.05 1285.35L424 1286.51L424.99 1287.62L426.02 1288.67L427.1 1289.66L428.21 1290.59L429.37 1291.44L430.57 1292.22L431.82 1292.92L433.11 1293.54L434.44 1294.07L435.82 1294.5L437.24 1294.84L438.69 1295.08L440.17 1295.24L441.66 1295.3L443.17 1295.28L444.69 1295.17L446.2 1294.98L447.7 1294.7L449.18 1294.34L450.64 1293.91L452.07 1293.39L453.46 1292.8L454.81 1292.13L456.1 1291.39L457.34 1290.58L458.52 1289.7L459.65 1288.76L460.73 1287.75L461.77 1286.7L462.75 1285.59L463.69 1284.43L464.58 1283.23L465.43 1281.99L466.24 1280.71L467.01 1279.4L467.74 1278.06L468.44 1276.7L469.1 1275.31L469.73 1273.91L470.33 1272.49L470.89 1271.06L471.43 1269.63L471.94 1268.19L472.43 1266.75L472.89 1265.3L473.32 1263.85L473.73 1262.39L474.12 1260.92L474.49 1259.45L474.84 1257.98L475.18 1256.51L475.49 1255.03L475.79 1253.54L476.07 1252.06L476.33 1250.57L476.59 1249.08L476.83 1247.59L477.06 1246.09L477.28 1244.6L477.49 1243.1L477.69 1241.6L477.89 1240.11L478.08 1238.61L478.26 1237.11L478.44 1235.61L478.62 1234.11L478.78 1232.61L478.95 1231.11L479.1 1229.61L479.26 1228.1L479.4 1226.6L479.55 1225.1L479.69 1223.6L479.82 1222.1L479.95 1220.59L480.08 1219.09L480.2 1217.59L480.31 1216.08L480.43 1214.58L480.54 1213.07L480.64 1211.57L480.74 1210.06L480.84 1208.56L480.93 1207.05L481.03 1205.55L481.11 1204.04L481.2 1202.54L481.28 1201.03L481.36 1199.52L481.44 1198.02L481.51 1196.51L481.58 1195L481.65 1193.5L481.71 1191.99L481.78 1190.48L481.84 1188.97L481.9 1187.46L481.96 1185.96L482.01 1184.45L482.07 1182.94L482.12 1181.43L482.17 1179.92L482.22 1178.41L482.27 1176.91L482.32 1175.4L482.36 1173.89L482.41 1172.38L482.45 1170.87L482.5 1169.36L482.54 1167.85L482.58 1166.34L482.62 1164.83L482.67 1163.32L482.71 1161.81L482.75 1160.3L482.79 1158.79L482.83 1157.28L482.87 1155.77L482.92 1154.26L482.96 1152.75L483 1151.24L483.05 1149.73L483.09 1148.22L483.14 1146.71L483.18 1145.2L483.23 1143.69L483.28 1142.18L483.33 1140.67L483.38 1139.16L483.44 1137.65L483.49 1136.14L483.55 1134.63L483.61 1133.12L483.67 1131.61L483.73 1130.1L483.8 1128.59L483.86 1127.08L483.93 1125.57L484.01 1124.06L484.08 1122.55L484.16 1121.05L484.24 1119.54L484.32 1118.03L484.41 1116.52L484.5 1115.01L484.56 1116.51L484.62 1118.01L484.69 1119.51L484.75 1121.02L484.81 1122.52L484.87 1124.02L484.93 1125.52L484.99 1127.03L485.06 1128.53L485.12 1130.03L485.18 1131.54L485.24 1133.04L485.3 1134.55L485.36 1136.05L485.42 1137.56L485.48 1139.06L485.54 1140.57L485.6 1142.07L485.66 1143.58L485.72 1145.08L485.78 1146.59L485.83 1148.1L485.89 1149.6L485.95 1151.11L486.01 1152.62L486.06 1154.12L486.12 1155.63L486.17 1157.14L486.23 1158.64L486.28 1160.15L486.34 1161.66L486.39 1163.17L486.45 1164.68L486.5 1166.18L486.55 1167.69L486.6 1169.2L486.65 1170.71L486.7 1172.22L486.75 1173.72L486.8 1175.23L486.85 1176.74L486.9 1178.25L486.95 1179.76L486.99 1181.27L487.04 1182.77L487.09 1184.28L487.13 1185.79L487.17 1187.3L487.22 1188.81L487.26 1190.32L487.3 1191.82L487.34 1193.33L487.38 1194.84L487.42 1196.35L487.46 1197.86L487.49 1199.37L487.53 1200.87L487.57 1202.38L487.6 1203.89L487.63 1205.4L487.67 1206.9L487.7 1208.41L487.73 1209.92L487.76 1211.43L487.79 1212.93L487.81 1214.44L487.84 1215.95L487.86 1217.46L487.89 1218.96L487.91 1220.47L487.93 1221.98L487.95 1223.48L487.97 1224.99L487.99 1226.49L488.01 1228L488.03 1229.5L488.04 1231.01L488.05 1232.51L488.07 1234.02L488.08 1235.52L488.09 1237.03L488.1 1238.53L488.1 1240.04L488.11 1241.54L488.11 1243.04L488.12 1244.55L488.12 1246.05L488.12 1247.55L488.12 1249.05L488.12 1250.56L488.11 1252.06L488.11 1253.56L488.11 1255.06L488.11 1256.56L488.1 1258.06L488.1 1259.56L488.1 1261.07L488.1 1262.57L488.09 1264.07L488.09 1265.57L488.1 1267.07L488.1 1268.57L488.1 1270.08L488.11 1271.58L488.12 1273.08L488.13 1274.58L488.14 1276.09L488.16 1277.59L488.18 1279.09L488.2 1280.6L488.22 1282.1L488.25 1283.61L488.29 1285.11L488.32 1286.62L488.36 1288.12L488.41 1289.63L488.46 1291.14L488.51 1292.65L488.57 1294.15L488.63 1295.66L488.7 1297.17L488.77 1298.69L488.85 1300.2L488.94 1301.71L489.03 1303.22L489.13 1304.74L489.23 1306.25L489.34 1307.77L489.46 1309.29L489.59 1310.8L489.72 1312.32L489.86 1313.84L490.01 1315.36L490.16 1316.89L490.32 1318.41L490.5 1319.93L490.69 1321.45L490.9 1322.96L491.13 1324.47L491.38 1325.97L491.65 1327.47L491.96 1328.95L492.29 1330.42L492.66 1331.88L493.06 1333.32L493.5 1334.75L493.98 1336.16L494.5 1337.55L495.07 1338.92L495.68 1340.26L496.33 1341.59L497.01 1342.88L497.74 1344.15L498.51 1345.4L499.31 1346.62L500.15 1347.82L501.02 1348.99L501.93 1350.13L502.87 1351.25L503.85 1352.35L504.85 1353.42L505.89 1354.47L506.95 1355.49L508.05 1356.49L509.17 1357.47L510.31 1358.42L511.49 1359.36L512.68 1360.27L513.9 1361.15L515.14 1362.02L516.4 1362.86L517.68 1363.68L518.99 1364.48L520.3 1365.25L521.64 1366.01L522.99 1366.74L524.36 1367.46L525.74 1368.15L527.13 1368.82L528.54 1369.48L529.95 1370.11L531.38 1370.72L532.81 1371.32L534.25 1371.89L535.7 1372.45L537.16 1372.98L538.62 1373.5L540.08 1374L541.54 1374.48L543.01 1374.94L544.48 1375.38L545.95 1375.81L547.41 1376.22L548.88 1376.61L550.34 1376.99L551.8 1377.35L553.26 1377.69L554.71 1378.03L556.17 1378.35L557.62 1378.65L559.08 1378.95L560.53 1379.24L561.98 1379.52L563.43 1379.79L564.88 1380.05L566.34 1380.31L567.79 1380.56L569.24 1380.8L570.7 1381.05L572.15 1381.29L573.61 1381.52L575.06 1381.76L576.52 1382L577.99 1382.24L579.45 1382.48L580.92 1382.72L582.39 1382.97L583.86 1383.22L585.33 1383.48L586.81 1383.74L588.29 1384.02L589.78 1384.29L591.27 1384.58L592.76 1384.88L594.26 1385.19L595.76 1385.51L597.27 1385.85L598.78 1386.2L600.3 1386.56C600.47 1388.52 600.87 1394.37 601.3 1398.3C601.73 1402.23 602.43 1407.47 602.9 1410.13C603.37 1412.79 603.73 1413.39 604.1 1414.27C604.47 1415.15 604.93 1415.2 605.1 1415.39C607.17 1415.5 612.07 1415.81 617.5 1416.02C622.93 1416.24 630.97 1416.41 637.7 1416.66C644.43 1416.9 652.78 1417.27 657.9 1417.49C663.02 1417.7 666.65 1417.85 668.4 1417.92C668.67 1418.75 669.42 1420.74 670 1422.89C670.58 1425.04 671.38 1429.01 671.9 1430.83C672.42 1432.65 672.9 1433.3 673.1 1433.8L1132.9 1433.8C1133.05 1430.5 1133.48 1420.73 1133.8 1414.03C1134.12 1407.32 1134.47 1399.82 1134.8 1393.57C1135.13 1387.32 1135.47 1381.07 1135.8 1376.53C1136.13 1371.98 1136.47 1368.49 1136.8 1366.3C1137.13 1364.11 1137.63 1363.87 1137.8 1363.38L1139.23 1362.91L1140.66 1362.45L1142.09 1361.99L1143.53 1361.54L1144.97 1361.08L1146.41 1360.64L1147.85 1360.19L1149.3 1359.74L1150.74 1359.3L1152.19 1358.86L1153.64 1358.42L1155.09 1357.98L1156.54 1357.54L1157.99 1357.1L1159.44 1356.65L1160.9 1356.21L1162.35 1355.76L1163.8 1355.31L1165.25 1354.86L1166.7 1354.41L1168.15 1353.95L1169.6 1353.48L1171.05 1353.02L1172.49 1352.54L1173.94 1352.06L1175.38 1351.58L1176.82 1351.09L1178.26 1350.59L1179.69 1350.08L1181.13 1349.57L1182.56 1349.04L1183.98 1348.51L1185.41 1347.97L1186.83 1347.42L1188.24 1346.86L1189.65 1346.29L1191.06 1345.7L1192.47 1345.11L1193.87 1344.5L1195.26 1343.89L1196.65 1343.25L1198.03 1342.61L1199.41 1341.95L1200.79 1341.28L1202.16 1340.59L1203.52 1339.89L1204.87 1339.17L1206.22 1338.43L1207.56 1337.68L1208.9 1336.92L1210.22 1336.14L1211.54 1335.35L1212.84 1334.54L1214.14 1333.71L1215.43 1332.87L1216.7 1332.02L1217.97 1331.15L1219.22 1330.26L1220.46 1329.36L1221.69 1328.45L1222.9 1327.52L1224.1 1326.57L1225.28 1325.61L1226.45 1324.64L1227.61 1323.65L1228.75 1322.64L1229.87 1321.62L1230.98 1320.59L1232.07 1319.54L1233.14 1318.47L1234.19 1317.4L1235.22 1316.3L1236.24 1315.19L1237.23 1314.07L1238.2 1312.93L1239.16 1311.78L1240.09 1310.61L1241 1309.43L1241.88 1308.24L1242.75 1307.02L1243.59 1305.8L1244.41 1304.56L1245.2 1303.31L1245.98 1302.04L1246.73 1300.76L1247.46 1299.47L1248.16 1298.16L1248.85 1296.84L1249.52 1295.51L1250.16 1294.17L1250.79 1292.82L1251.4 1291.45L1251.99 1290.08L1252.56 1288.69L1253.11 1287.3L1253.64 1285.89L1254.15 1284.48L1254.65 1283.06L1255.13 1281.62L1255.6 1280.18L1256.04 1278.73L1256.48 1277.28L1256.89 1275.81L1257.29 1274.34L1257.68 1272.87L1258.05 1271.38L1258.41 1269.89L1258.75 1268.4L1259.08 1266.89L1259.4 1265.39L1259.71 1263.88L1260 1262.36L1260.28 1260.84L1260.55 1259.31L1260.8 1257.79L1261.05 1256.26L1261.28 1254.72L1261.51 1253.18L1261.73 1251.65L1261.93 1250.1L1262.13 1248.56L1262.32 1247.02L1262.49 1245.47L1262.67 1243.93L1262.83 1242.38L1262.99 1240.84L1263.13 1239.29L1263.28 1237.75L1263.41 1236.2L1263.54 1234.66L1263.67 1233.12L1263.79 1231.58L1263.9 1230.04L1264.01 1228.51L1264.11 1226.98L1264.22 1225.45L1264.31 1223.92L1264.41 1222.4L1264.5 1220.89L1264.59 1219.37L1264.68 1217.87L1264.76 1216.36L1264.85 1214.87L1264.93 1213.38L1265.01 1211.89L1265.09 1210.41L1265.18 1208.94L1265.26 1207.48L1265.34 1206.02L1265.43 1204.57L1265.51 1203.13L1265.6 1201.7L1265.84 1203.16L1266.07 1204.63L1266.27 1206.1L1266.46 1207.58L1266.63 1209.06L1266.79 1210.55L1266.93 1212.05L1267.06 1213.54L1267.18 1215.04L1267.29 1216.55L1267.39 1218.06L1267.48 1219.57L1267.56 1221.08L1267.64 1222.6L1267.71 1224.12L1267.79 1225.63L1267.85 1227.16L1267.92 1228.68L1267.99 1230.2L1268.06 1231.73L1268.13 1233.25L1268.21 1234.77L1268.29 1236.3L1268.37 1237.82L1268.47 1239.34L1268.57 1240.86L1268.68 1242.38L1268.8 1243.9L1268.93 1245.41L1269.08 1246.93L1269.24 1248.44L1269.41 1249.94L1269.61 1251.45L1269.81 1252.94L1270.04 1254.44L1270.29 1255.93L1270.56 1257.42L1270.85 1258.9L1271.16 1260.38L1271.5 1261.85L1271.86 1263.32L1272.25 1264.78L1272.67 1266.23L1273.12 1267.68L1273.6 1269.11L1274.11 1270.55L1274.65 1271.97L1275.22 1273.39L1275.83 1274.8L1276.48 1276.2L1277.16 1277.58L1277.88 1278.95L1278.63 1280.3L1279.43 1281.61L1280.26 1282.9L1281.13 1284.15L1282.05 1285.35L1283 1286.51L1283.99 1287.62L1285.02 1288.67L1286.1 1289.66L1287.21 1290.59L1288.37 1291.44L1289.57 1292.22L1290.82 1292.92L1292.11 1293.54L1293.44 1294.07L1294.82 1294.5L1296.24 1294.84L1297.69 1295.08L1299.17 1295.24L1300.66 1295.3L1302.17 1295.28L1303.69 1295.17L1305.2 1294.98L1306.7 1294.7L1308.18 1294.34L1309.64 1293.91L1311.07 1293.39L1312.46 1292.8L1313.81 1292.13L1315.1 1291.39L1316.34 1290.58L1317.52 1289.7L1318.65 1288.76L1319.73 1287.75L1320.77 1286.7L1321.75 1285.59L1322.69 1284.43L1323.58 1283.23L1324.43 1281.99L1325.24 1280.71L1326.01 1279.4L1326.74 1278.06L1327.44 1276.7L1328.1 1275.31L1328.73 1273.91L1329.33 1272.49L1329.89 1271.06L1330.43 1269.63L1330.94 1268.19L1331.43 1266.75L1331.89 1265.3L1332.32 1263.85L1332.73 1262.39L1333.12 1260.92L1333.49 1259.45L1333.84 1257.98L1334.18 1256.51L1334.49 1255.03L1334.79 1253.54L1335.07 1252.06L1335.33 1250.57L1335.59 1249.08L1335.83 1247.59L1336.06 1246.09L1336.28 1244.6L1336.49 1243.1L1336.69 1241.6L1336.89 1240.11L1337.08 1238.61L1337.26 1237.11L1337.44 1235.61L1337.62 1234.11L1337.78 1232.61L1337.95 1231.11L1338.1 1229.61L1338.26 1228.1L1338.4 1226.6L1338.55 1225.1L1338.69 1223.6L1338.82 1222.1L1338.95 1220.59L1339.08 1219.09L1339.2 1217.59L1339.31 1216.08L1339.43 1214.58L1339.54 1213.07L1339.64 1211.57L1339.74 1210.06L1339.84 1208.56L1339.93 1207.05L1340.03 1205.55L1340.11 1204.04L1340.2 1202.54L1340.28 1201.03L1340.36 1199.52L1340.44 1198.02L1340.51 1196.51L1340.58 1195L1340.65 1193.5L1340.71 1191.99L1340.78 1190.48L1340.84 1188.97L1340.9 1187.46L1340.96 1185.96L1341.01 1184.45L1341.07 1182.94L1341.12 1181.43L1341.17 1179.92L1341.22 1178.41L1341.27 1176.91L1341.32 1175.4L1341.36 1173.89L1341.41 1172.38L1341.45 1170.87L1341.5 1169.36L1341.54 1167.85L1341.58 1166.34L1341.62 1164.83L1341.67 1163.32L1341.71 1161.81L1341.75 1160.3L1341.79 1158.79L1341.83 1157.28L1341.87 1155.77L1341.92 1154.26L1341.96 1152.75L1342 1151.24L1342.05 1149.73L1342.09 1148.22L1342.14 1146.71L1342.18 1145.2L1342.23 1143.69L1342.28 1142.18L1342.33 1140.67L1342.38 1139.16L1342.44 1137.65L1342.49 1136.14L1342.55 1134.63L1342.61 1133.12L1342.67 1131.61L1342.73 1130.1L1342.8 1128.59L1342.86 1127.08L1342.93 1125.57L1343.01 1124.06L1343.08 1122.55L1343.16 1121.05L1343.24 1119.54L1343.32 1118.03L1343.41 1116.52L1343.5 1115.01L1343.56 1116.51L1343.62 1118.01L1343.69 1119.51L1343.75 1121.02L1343.81 1122.52L1343.87 1124.02L1343.93 1125.52L1343.99 1127.03L1344.06 1128.53L1344.12 1130.03L1344.18 1131.54L1344.24 1133.04L1344.3 1134.55L1344.36 1136.05L1344.42 1137.56L1344.48 1139.06L1344.54 1140.57L1344.6 1142.07L1344.66 1143.58L1344.72 1145.08L1344.78 1146.59L1344.83 1148.1L1344.89 1149.6L1344.95 1151.11L1345.01 1152.62L1345.06 1154.12L1345.12 1155.63L1345.17 1157.14L1345.23 1158.64L1345.28 1160.15L1345.34 1161.66L1345.39 1163.17L1345.45 1164.68L1345.5 1166.18L1345.55 1167.69L1345.6 1169.2L1345.65 1170.71L1345.7 1172.22L1345.75 1173.72L1345.8 1175.23L1345.85 1176.74L1345.9 1178.25L1345.95 1179.76L1345.99 1181.27L1346.04 1182.77L1346.09 1184.28L1346.13 1185.79L1346.17 1187.3L1346.22 1188.81L1346.26 1190.32L1346.3 1191.82L1346.34 1193.33L1346.38 1194.84L1346.42 1196.35L1346.46 1197.86L1346.49 1199.37L1346.53 1200.87L1346.57 1202.38L1346.6 1203.89L1346.63 1205.4L1346.67 1206.9L1346.7 1208.41L1346.73 1209.92L1346.76 1211.43L1346.79 1212.93L1346.81 1214.44L1346.84 1215.95L1346.86 1217.46L1346.89 1218.96L1346.91 1220.47L1346.93 1221.98L1346.95 1223.48L1346.97 1224.99L1346.99 1226.49L1347.01 1228L1347.03 1229.5L1347.04 1231.01L1347.05 1232.51L1347.07 1234.02L1347.08 1235.52L1347.09 1237.03L1347.1 1238.53L1347.1 1240.04L1347.11 1241.54L1347.11 1243.04L1347.12 1244.55L1347.12 1246.05L1347.12 1247.55L1347.12 1249.05L1347.12 1250.56L1347.11 1252.06L1347.11 1253.56L1347.11 1255.06L1347.11 1256.56L1347.1 1258.06L1347.1 1259.56L1347.1 1261.07L1347.1 1262.57L1347.09 1264.07L1347.09 1265.57L1347.1 1267.07L1347.1 1268.57L1347.1 1270.08L1347.11 1271.58L1347.12 1273.08L1347.13 1274.58L1347.14 1276.09L1347.16 1277.59L1347.18 1279.09L1347.2 1280.6L1347.22 1282.1L1347.25 1283.61L1347.29 1285.11L1347.32 1286.62L1347.36 1288.12L1347.41 1289.63L1347.46 1291.14L1347.51 1292.65L1347.57 1294.15L1347.63 1295.66L1347.7 1297.17L1347.77 1298.69L1347.85 1300.2L1347.94 1301.71L1348.03 1303.22L1348.13 1304.74L1348.23 1306.25L1348.34 1307.77L1348.46 1309.29L1348.59 1310.8L1348.72 1312.32L1348.86 1313.84L1349.01 1315.36L1349.16 1316.89L1349.32 1318.41L1349.5 1319.93L1349.69 1321.45L1349.9 1322.96L1350.13 1324.47L1350.38 1325.97L1350.65 1327.47L1350.96 1328.95L1351.29 1330.42L1351.66 1331.88L1352.06 1333.32L1352.5 1334.75L1352.98 1336.16L1353.5 1337.55L1354.07 1338.92L1354.68 1340.26L1355.33 1341.59L1356.01 1342.88L1356.74 1344.15L1357.51 1345.4L1358.31 1346.62L1359.15 1347.82L1360.02 1348.99L1360.93 1350.13L1361.87 1351.25L1362.85 1352.35L1363.85 1353.42L1364.89 1354.47L1365.95 1355.49L1367.05 1356.49L1368.17 1357.47L1369.31 1358.42L1370.49 1359.36L1371.68 1360.27L1372.9 1361.15L1374.14 1362.02L1375.4 1362.86L1376.68 1363.68L1377.99 1364.48L1379.3 1365.25L1380.64 1366.01L1381.99 1366.74L1383.36 1367.46L1384.74 1368.15L1386.13 1368.82L1387.54 1369.48L1388.95 1370.11L1390.38 1370.72L1391.81 1371.32L1393.25 1371.89L1394.7 1372.45L1396.16 1372.98L1397.62 1373.5L1399.08 1374L1400.54 1374.48L1402.01 1374.94L1403.48 1375.38L1404.95 1375.81L1406.41 1376.22L1407.88 1376.61L1409.34 1376.99L1410.8 1377.35L1412.26 1377.69L1413.71 1378.03L1415.17 1378.35L1416.62 1378.65L1418.08 1378.95L1419.53 1379.24L1420.98 1379.52L1422.43 1379.79L1423.88 1380.05L1425.34 1380.31L1426.79 1380.56L1428.24 1380.8L1429.7 1381.05L1431.15 1381.29L1432.61 1381.52L1434.06 1381.76L1435.52 1382L1436.99 1382.24L1438.45 1382.48L1439.92 1382.72L1441.39 1382.97L1442.86 1383.22L1444.33 1383.48L1445.81 1383.74L1447.29 1384.02L1448.78 1384.29L1450.27 1384.58L1451.76 1384.88L1453.26 1385.19L1454.76 1385.51L1456.27 1385.85L1457.78 1386.2L1459.3 1386.56C1459.47 1388.52 1459.87 1394.37 1460.3 1398.3C1460.73 1402.23 1461.43 1407.47 1461.9 1410.13C1462.37 1412.79 1462.73 1413.39 1463.1 1414.27C1463.47 1415.15 1463.93 1415.2 1464.1 1415.39C1466.17 1415.5 1471.07 1415.81 1476.5 1416.02C1481.93 1416.24 1489.97 1416.41 1496.7 1416.66C1503.43 1416.9 1511.78 1417.27 1516.9 1417.49C1522.02 1417.7 1525.65 1417.85 1527.4 1417.92C1527.67 1418.75 1528.42 1420.74 1529 1422.89C1529.58 1425.04 1530.38 1429.01 1530.9 1430.83C1531.42 1432.65 1531.9 1433.3 1532.1 1433.8L1566 1433.8" fill="none" stroke="#231f20" stroke-width="5" stroke-linejoin="round"/>
<text transform="translate(159.9 676.9) scale(0.94 1)" x="0" y="0" font-family="'Liberation Sans', Arial, Helvetica, sans-serif" font-size="104" font-weight="bold" text-anchor="start" fill="#231f20">a</text>
<text x="159.3" y="1053.2" font-family="'Liberation Sans', Arial, Helvetica, sans-serif" font-size="104" font-weight="bold" text-anchor="start" fill="#231f20">b</text>
<text x="159.6" y="1414" font-family="'Liberation Sans', Arial, Helvetica, sans-serif" font-size="104" font-weight="bold" text-anchor="start" fill="#231f20">c</text>
<text transform="translate(1527.56 683.6) scale(1 1.03)" x="0" y="0" font-family="'Liberation Sans', Arial, Helvetica, sans-serif" font-size="75" font-weight="bold" text-anchor="start" fill="#231f20">0</text>
<text transform="translate(1466.08 1060.2) scale(1 1.03)" x="0 40.43 59.99" y="0" font-family="'Liberation Sans', Arial, Helvetica, sans-serif" font-size="75" font-weight="bold" text-anchor="start" fill="#231f20">3.0</text>
<text transform="translate(1465.15 1395.4) scale(1 1.03)" x="0 41.14 61.41" y="0" font-family="'Liberation Sans', Arial, Helvetica, sans-serif" font-size="75" font-weight="bold" text-anchor="start" fill="#231f20">6.0</text>
<text x="1292.6" y="600.6" font-family="'Liberation Sans', Arial, Helvetica, sans-serif" font-size="80" font-weight="normal" text-anchor="start" fill="#231f20">Δ</text>
<text x="1344.85" y="610.8" font-family="'Liberation Sans', Arial, Helvetica, sans-serif" font-size="48" font-weight="bold" text-anchor="start" fill="#231f20">iso</text>
<text x="1414" y="594" font-family="'Liberation Sans', Arial, Helvetica, sans-serif" font-size="75" font-weight="bold" text-anchor="start" fill="#231f20">/</text>
<text x="1434.7" y="594" font-family="'Liberation Sans', Arial, Helvetica, sans-serif" font-size="75" font-weight="bold" text-anchor="start" fill="#231f20">kHz</text>
<line x1="162" y1="1467" x2="1566" y2="1467" stroke="#231f20" stroke-width="7.9"/>
<line x1="291.8" y1="1467" x2="291.8" y2="1491.7" stroke="#231f20" stroke-width="7.9"/>
<line x1="434.85" y1="1467" x2="434.85" y2="1491.7" stroke="#231f20" stroke-width="7.9"/>
<line x1="577.9" y1="1467" x2="577.9" y2="1491.7" stroke="#231f20" stroke-width="7.9"/>
<line x1="720.95" y1="1467" x2="720.95" y2="1491.7" stroke="#231f20" stroke-width="7.9"/>
<line x1="864" y1="1467" x2="864" y2="1491.7" stroke="#231f20" stroke-width="7.9"/>
<line x1="1007.05" y1="1467" x2="1007.05" y2="1491.7" stroke="#231f20" stroke-width="7.9"/>
<line x1="1150.1" y1="1467" x2="1150.1" y2="1491.7" stroke="#231f20" stroke-width="7.9"/>
<line x1="1293.15" y1="1467" x2="1293.15" y2="1491.7" stroke="#231f20" stroke-width="7.9"/>
<line x1="1436.2" y1="1467" x2="1436.2" y2="1491.7" stroke="#231f20" stroke-width="7.9"/>
<line x1="220.27" y1="1467" x2="220.27" y2="1480" stroke="#231f20" stroke-width="7.9"/>
<line x1="363.32" y1="1467" x2="363.32" y2="1480" stroke="#231f20" stroke-width="7.9"/>
<line x1="506.38" y1="1467" x2="506.38" y2="1480" stroke="#231f20" stroke-width="7.9"/>
<line x1="649.42" y1="1467" x2="649.42" y2="1480" stroke="#231f20" stroke-width="7.9"/>
<line x1="792.48" y1="1467" x2="792.48" y2="1480" stroke="#231f20" stroke-width="7.9"/>
<line x1="935.52" y1="1467" x2="935.52" y2="1480" stroke="#231f20" stroke-width="7.9"/>
<line x1="1078.58" y1="1467" x2="1078.58" y2="1480" stroke="#231f20" stroke-width="7.9"/>
<line x1="1221.62" y1="1467" x2="1221.62" y2="1480" stroke="#231f20" stroke-width="7.9"/>
<line x1="1364.68" y1="1467" x2="1364.68" y2="1480" stroke="#231f20" stroke-width="7.9"/>
<line x1="1507.72" y1="1467" x2="1507.72" y2="1480" stroke="#231f20" stroke-width="7.9"/>
<text transform="translate(294.3 1559) scale(1 1.03)" x="0" y="0" font-family="'Liberation Sans', Arial, Helvetica, sans-serif" font-size="75" font-weight="bold" text-anchor="middle" fill="#231f20">-4</text>
<text transform="translate(437.35 1559) scale(1 1.03)" x="0" y="0" font-family="'Liberation Sans', Arial, Helvetica, sans-serif" font-size="75" font-weight="bold" text-anchor="middle" fill="#231f20">-3</text>
<text transform="translate(580.4 1559) scale(1 1.03)" x="0" y="0" font-family="'Liberation Sans', Arial, Helvetica, sans-serif" font-size="75" font-weight="bold" text-anchor="middle" fill="#231f20">-2</text>
<text transform="translate(719.45 1559) scale(1 1.03)" x="0" y="0" font-family="'Liberation Sans', Arial, Helvetica, sans-serif" font-size="75" font-weight="bold" text-anchor="middle" fill="#231f20">-1</text>
<text transform="translate(866.5 1559) scale(1 1.03)" x="0" y="0" font-family="'Liberation Sans', Arial, Helvetica, sans-serif" font-size="75" font-weight="bold" text-anchor="middle" fill="#231f20">0</text>
<text transform="translate(1005.55 1559) scale(1 1.03)" x="0" y="0" font-family="'Liberation Sans', Arial, Helvetica, sans-serif" font-size="75" font-weight="bold" text-anchor="middle" fill="#231f20">1</text>
<text transform="translate(1152.6 1559) scale(1 1.03)" x="0" y="0" font-family="'Liberation Sans', Arial, Helvetica, sans-serif" font-size="75" font-weight="bold" text-anchor="middle" fill="#231f20">2</text>
<text transform="translate(1295.65 1559) scale(1 1.03)" x="0" y="0" font-family="'Liberation Sans', Arial, Helvetica, sans-serif" font-size="75" font-weight="bold" text-anchor="middle" fill="#231f20">3</text>
<text transform="translate(1438.7 1559) scale(1 1.03)" x="0" y="0" font-family="'Liberation Sans', Arial, Helvetica, sans-serif" font-size="75" font-weight="bold" text-anchor="middle" fill="#231f20">4</text>
<text x="444" y="1650.4" font-family="'Liberation Sans', Arial, Helvetica, sans-serif" font-size="81.5" font-weight="bold" text-anchor="start" fill="#231f20">resonance offset (kHz)</text>
<rect x="288.6" y="1722.6" width="1256" height="775.8" fill="none" stroke="#231f20" stroke-width="6.9"/>
<line x1="288.6" y1="2498.4" x2="288.6" y2="2522.3" stroke="#231f20" stroke-width="6.9"/>
<line x1="288.6" y1="1722.6" x2="288.6" y2="1746.5" stroke="#231f20" stroke-width="6.9"/>
<line x1="393.27" y1="2498.4" x2="393.27" y2="2510.5" stroke="#231f20" stroke-width="6.9"/>
<line x1="393.27" y1="1722.6" x2="393.27" y2="1734.2" stroke="#231f20" stroke-width="6.9"/>
<line x1="497.93" y1="2498.4" x2="497.93" y2="2522.3" stroke="#231f20" stroke-width="6.9"/>
<line x1="497.93" y1="1722.6" x2="497.93" y2="1746.5" stroke="#231f20" stroke-width="6.9"/>
<line x1="602.6" y1="2498.4" x2="602.6" y2="2510.5" stroke="#231f20" stroke-width="6.9"/>
<line x1="602.6" y1="1722.6" x2="602.6" y2="1734.2" stroke="#231f20" stroke-width="6.9"/>
<line x1="707.27" y1="2498.4" x2="707.27" y2="2522.3" stroke="#231f20" stroke-width="6.9"/>
<line x1="707.27" y1="1722.6" x2="707.27" y2="1746.5" stroke="#231f20" stroke-width="6.9"/>
<line x1="811.93" y1="2498.4" x2="811.93" y2="2510.5" stroke="#231f20" stroke-width="6.9"/>
<line x1="811.93" y1="1722.6" x2="811.93" y2="1734.2" stroke="#231f20" stroke-width="6.9"/>
<line x1="916.6" y1="2498.4" x2="916.6" y2="2522.3" stroke="#231f20" stroke-width="6.9"/>
<line x1="916.6" y1="1722.6" x2="916.6" y2="1746.5" stroke="#231f20" stroke-width="6.9"/>
<line x1="1021.27" y1="2498.4" x2="1021.27" y2="2510.5" stroke="#231f20" stroke-width="6.9"/>
<line x1="1021.27" y1="1722.6" x2="1021.27" y2="1734.2" stroke="#231f20" stroke-width="6.9"/>
<line x1="1125.93" y1="2498.4" x2="1125.93" y2="2522.3" stroke="#231f20" stroke-width="6.9"/>
<line x1="1125.93" y1="1722.6" x2="1125.93" y2="1746.5" stroke="#231f20" stroke-width="6.9"/>
<line x1="1230.6" y1="2498.4" x2="1230.6" y2="2510.5" stroke="#231f20" stroke-width="6.9"/>
<line x1="1230.6" y1="1722.6" x2="1230.6" y2="1734.2" stroke="#231f20" stroke-width="6.9"/>
<line x1="1335.27" y1="2498.4" x2="1335.27" y2="2522.3" stroke="#231f20" stroke-width="6.9"/>
<line x1="1335.27" y1="1722.6" x2="1335.27" y2="1746.5" stroke="#231f20" stroke-width="6.9"/>
<line x1="1439.93" y1="2498.4" x2="1439.93" y2="2510.5" stroke="#231f20" stroke-width="6.9"/>
<line x1="1439.93" y1="1722.6" x2="1439.93" y2="1734.2" stroke="#231f20" stroke-width="6.9"/>
<line x1="1544.6" y1="2498.4" x2="1544.6" y2="2522.3" stroke="#231f20" stroke-width="6.9"/>
<line x1="1544.6" y1="1722.6" x2="1544.6" y2="1746.5" stroke="#231f20" stroke-width="6.9"/>
<line x1="288.6" y1="2498.4" x2="263" y2="2498.4" stroke="#231f20" stroke-width="6.9"/>
<line x1="1544.6" y1="2498.4" x2="1519.4" y2="2498.4" stroke="#231f20" stroke-width="6.9"/>
<line x1="288.6" y1="2389.36" x2="275.3" y2="2389.36" stroke="#231f20" stroke-width="6.9"/>
<line x1="1544.6" y1="2389.36" x2="1531.5" y2="2389.36" stroke="#231f20" stroke-width="6.9"/>
<line x1="288.6" y1="2280.32" x2="263" y2="2280.32" stroke="#231f20" stroke-width="6.9"/>
<line x1="1544.6" y1="2280.32" x2="1519.4" y2="2280.32" stroke="#231f20" stroke-width="6.9"/>
<line x1="288.6" y1="2171.28" x2="275.3" y2="2171.28" stroke="#231f20" stroke-width="6.9"/>
<line x1="1544.6" y1="2171.28" x2="1531.5" y2="2171.28" stroke="#231f20" stroke-width="6.9"/>
<line x1="288.6" y1="2062.24" x2="263" y2="2062.24" stroke="#231f20" stroke-width="6.9"/>
<line x1="1544.6" y1="2062.24" x2="1519.4" y2="2062.24" stroke="#231f20" stroke-width="6.9"/>
<line x1="288.6" y1="1953.2" x2="275.3" y2="1953.2" stroke="#231f20" stroke-width="6.9"/>
<line x1="1544.6" y1="1953.2" x2="1531.5" y2="1953.2" stroke="#231f20" stroke-width="6.9"/>
<line x1="288.6" y1="1844.16" x2="263" y2="1844.16" stroke="#231f20" stroke-width="6.9"/>
<line x1="1544.6" y1="1844.16" x2="1519.4" y2="1844.16" stroke="#231f20" stroke-width="6.9"/>
<line x1="288.6" y1="1735.12" x2="275.3" y2="1735.12" stroke="#231f20" stroke-width="6.9"/>
<line x1="1544.6" y1="1735.12" x2="1531.5" y2="1735.12" stroke="#231f20" stroke-width="6.9"/>
<text transform="translate(290.6 2590) scale(1 1.03)" x="0" y="0" font-family="'Liberation Sans', Arial, Helvetica, sans-serif" font-size="75" font-weight="bold" text-anchor="middle" fill="#231f20">0</text>
<text transform="translate(499.93 2590) scale(1 1.03)" x="0" y="0" font-family="'Liberation Sans', Arial, Helvetica, sans-serif" font-size="75" font-weight="bold" text-anchor="middle" fill="#231f20">2</text>
<text transform="translate(709.27 2590) scale(1 1.03)" x="0" y="0" font-family="'Liberation Sans', Arial, Helvetica, sans-serif" font-size="75" font-weight="bold" text-anchor="middle" fill="#231f20">4</text>
<text transform="translate(918.6 2590) scale(1 1.03)" x="0" y="0" font-family="'Liberation Sans', Arial, Helvetica, sans-serif" font-size="75" font-weight="bold" text-anchor="middle" fill="#231f20">6</text>
<text transform="translate(1127.93 2590) scale(1 1.03)" x="0" y="0" font-family="'Liberation Sans', Arial, Helvetica, sans-serif" font-size="75" font-weight="bold" text-anchor="middle" fill="#231f20">8</text>
<text transform="translate(1334.77 2590) scale(1 1.03)" x="0" y="0" font-family="'Liberation Sans', Arial, Helvetica, sans-serif" font-size="75" font-weight="bold" text-anchor="middle" fill="#231f20">10</text>
<text transform="translate(1544.1 2590) scale(1 1.03)" x="0" y="0" font-family="'Liberation Sans', Arial, Helvetica, sans-serif" font-size="75" font-weight="bold" text-anchor="middle" fill="#231f20">12</text>
<text transform="translate(121.83 2516.1) scale(1 1.03)" x="0 36.4 51.93 88.33" y="0" font-family="'Liberation Sans', Arial, Helvetica, sans-serif" font-size="75" font-weight="bold" text-anchor="start" fill="#231f20">0.00</text>
<text transform="translate(122.13 2297.8) scale(1 1.03)" x="0 36.08 51.28 87.36" y="0" font-family="'Liberation Sans', Arial, Helvetica, sans-serif" font-size="75" font-weight="bold" text-anchor="start" fill="#231f20">0.08</text>
<text transform="translate(122.13 2080.7) scale(1 1.03)" x="0 36.51 52.15 88.66" y="0" font-family="'Liberation Sans', Arial, Helvetica, sans-serif" font-size="75" font-weight="bold" text-anchor="start" fill="#231f20">0.16</text>
<text transform="translate(122.13 1862.5) scale(1 1.03)" x="0 36.14 51.41 87.56" y="0" font-family="'Liberation Sans', Arial, Helvetica, sans-serif" font-size="75" font-weight="bold" text-anchor="start" fill="#231f20">0.24</text>
<text transform="translate(93.8 2465.2) rotate(-90)" x="0" y="0" font-family="'Liberation Sans', Arial, Helvetica, sans-serif" font-size="81.5" font-weight="bold" fill="#231f20">transfer efficency</text>
<text x="767.9" y="2664.8" font-family="'Liberation Serif', 'Times New Roman', serif" font-size="94" font-weight="normal" text-anchor="start" fill="#231f20" font-style="italic" stroke="#231f20" stroke-width="1.6" stroke-linejoin="round">τ</text>
<text x="800.3" y="2674" font-family="'Liberation Sans', Arial, Helvetica, sans-serif" font-size="53" font-weight="bold" text-anchor="start" fill="#231f20">mix</text>
<text x="912.9" y="2663.7" font-family="'Liberation Sans', Arial, Helvetica, sans-serif" font-size="81.5" font-weight="bold" text-anchor="start" fill="#231f20">(ms)</text>
<text x="309.6" y="1827" font-family="'Liberation Sans', Arial, Helvetica, sans-serif" font-size="103.5" font-weight="bold" text-anchor="start" fill="#231f20">d</text>
<line x1="891.5" y1="1726" x2="891.5" y2="2507.8" stroke="#231f20" stroke-width="4.8" stroke-dasharray="4.2 3.15"/>
<path d="M288.6 2498.2 L306.04 2497.83 L323.49 2492.62 L340.93 2483.17 L358.38 2470.07 L375.82 2453.88 L393.27 2435.08 L410.71 2413.7 L428.16 2389.46 L445.6 2363.05 L463.04 2335.31 L480.49 2306.49 L497.93 2276.76 L515.38 2246.26 L532.82 2215.15 L550.27 2183.6 L567.71 2151.92 L585.16 2120.42 L602.6 2089.43 L620.04 2059.31 L637.49 2030.66 L654.93 2004.12 L672.38 1979.87 L689.82 1956.1 L707.27 1932.75 L724.71 1915.21 L742.16 1899.63 L759.6 1885.4 L777.04 1873.23 L794.49 1862.7 L811.93 1853.9 L829.38 1849.17 L846.82 1847.38 L864.27 1846.8 L881.71 1847.41 L899.16 1849.61 L916.6 1853.78 L934.04 1860.03 L951.49 1867.24 L968.93 1874.47 L986.38 1882.35 L1003.82 1891 L1021.27 1900.24 L1038.71 1909.83 L1056.16 1919.5 L1073.6 1928.98 L1091.04 1938.01 L1108.49 1946.38 L1125.93 1953.9 L1143.38 1960.35 L1160.82 1965.55 L1178.27 1969.85 L1195.71 1974.6 L1213.16 1977.86 L1230.6 1979.57 L1248.04 1980.29 L1265.49 1980.17 L1282.93 1979.25 L1300.38 1977.58 L1317.82 1975.18 L1335.27 1972.09 L1352.71 1968.36 L1370.16 1964.01 L1387.6 1959.1 L1405.04 1953.72 L1422.49 1948.29 L1439.93 1943.29 L1457.38 1938.98 L1474.82 1934.84 L1492.27 1930.42 L1509.71 1926.22 L1527.16 1922.92 L1544.6 1921.23" fill="none" stroke="#231f20" stroke-width="5.6" stroke-linejoin="round"/>
<rect x="281.25" y="2490.85" width="14.7" height="14.7" fill="#231f20"/>
<rect x="298.69" y="2490.48" width="14.7" height="14.7" fill="#231f20"/>
<rect x="316.14" y="2485.27" width="14.7" height="14.7" fill="#231f20"/>
<rect x="333.58" y="2475.82" width="14.7" height="14.7" fill="#231f20"/>
<rect x="351.03" y="2462.72" width="14.7" height="14.7" fill="#231f20"/>
<rect x="368.47" y="2446.53" width="14.7" height="14.7" fill="#231f20"/>
<rect x="385.92" y="2427.73" width="14.7" height="14.7" fill="#231f20"/>
<rect x="403.36" y="2406.35" width="14.7" height="14.7" fill="#231f20"/>
<rect x="420.81" y="2382.11" width="14.7" height="14.7" fill="#231f20"/>
<rect x="438.25" y="2355.7" width="14.7" height="14.7" fill="#231f20"/>
<rect x="455.69" y="2327.96" width="14.7" height="14.7" fill="#231f20"/>
<rect x="473.14" y="2299.14" width="14.7" height="14.7" fill="#231f20"/>
<rect x="490.58" y="2269.41" width="14.7" height="14.7" fill="#231f20"/>
<rect x="508.03" y="2238.91" width="14.7" height="14.7" fill="#231f20"/>
<rect x="525.47" y="2207.8" width="14.7" height="14.7" fill="#231f20"/>
<rect x="542.92" y="2176.25" width="14.7" height="14.7" fill="#231f20"/>
<rect x="560.36" y="2144.57" width="14.7" height="14.7" fill="#231f20"/>
<rect x="577.81" y="2113.07" width="14.7" height="14.7" fill="#231f20"/>
<rect x="595.25" y="2082.08" width="14.7" height="14.7" fill="#231f20"/>
<rect x="612.69" y="2051.96" width="14.7" height="14.7" fill="#231f20"/>
<rect x="630.14" y="2023.31" width="14.7" height="14.7" fill="#231f20"/>
<rect x="647.58" y="1996.77" width="14.7" height="14.7" fill="#231f20"/>
<rect x="665.03" y="1972.52" width="14.7" height="14.7" fill="#231f20"/>
<rect x="682.47" y="1948.75" width="14.7" height="14.7" fill="#231f20"/>
<rect x="699.92" y="1925.4" width="14.7" height="14.7" fill="#231f20"/>
<rect x="717.36" y="1907.86" width="14.7" height="14.7" fill="#231f20"/>
<rect x="734.81" y="1892.28" width="14.7" height="14.7" fill="#231f20"/>
<rect x="752.25" y="1878.05" width="14.7" height="14.7" fill="#231f20"/>
<rect x="769.69" y="1865.88" width="14.7" height="14.7" fill="#231f20"/>
<rect x="787.14" y="1855.35" width="14.7" height="14.7" fill="#231f20"/>
<rect x="804.58" y="1846.55" width="14.7" height="14.7" fill="#231f20"/>
<rect x="822.03" y="1841.82" width="14.7" height="14.7" fill="#231f20"/>
<rect x="839.47" y="1840.03" width="14.7" height="14.7" fill="#231f20"/>
<rect x="856.92" y="1839.45" width="14.7" height="14.7" fill="#231f20"/>
<rect x="874.36" y="1840.06" width="14.7" height="14.7" fill="#231f20"/>
<rect x="891.81" y="1842.26" width="14.7" height="14.7" fill="#231f20"/>
<rect x="909.25" y="1846.43" width="14.7" height="14.7" fill="#231f20"/>
<rect x="926.69" y="1852.68" width="14.7" height="14.7" fill="#231f20"/>
<rect x="944.14" y="1859.89" width="14.7" height="14.7" fill="#231f20"/>
<rect x="961.58" y="1867.12" width="14.7" height="14.7" fill="#231f20"/>
<rect x="979.03" y="1875" width="14.7" height="14.7" fill="#231f20"/>
<rect x="996.47" y="1883.65" width="14.7" height="14.7" fill="#231f20"/>
<rect x="1013.92" y="1892.89" width="14.7" height="14.7" fill="#231f20"/>
<rect x="1031.36" y="1902.48" width="14.7" height="14.7" fill="#231f20"/>
<rect x="1048.81" y="1912.15" width="14.7" height="14.7" fill="#231f20"/>
<rect x="1066.25" y="1921.63" width="14.7" height="14.7" fill="#231f20"/>
<rect x="1083.69" y="1930.66" width="14.7" height="14.7" fill="#231f20"/>
<rect x="1101.14" y="1939.03" width="14.7" height="14.7" fill="#231f20"/>
<rect x="1118.58" y="1946.55" width="14.7" height="14.7" fill="#231f20"/>
<rect x="1136.03" y="1953" width="14.7" height="14.7" fill="#231f20"/>
<rect x="1153.47" y="1958.2" width="14.7" height="14.7" fill="#231f20"/>
<rect x="1170.92" y="1962.5" width="14.7" height="14.7" fill="#231f20"/>
<rect x="1188.36" y="1967.25" width="14.7" height="14.7" fill="#231f20"/>
<rect x="1205.81" y="1970.51" width="14.7" height="14.7" fill="#231f20"/>
<rect x="1223.25" y="1972.22" width="14.7" height="14.7" fill="#231f20"/>
<rect x="1240.69" y="1972.94" width="14.7" height="14.7" fill="#231f20"/>
<rect x="1258.14" y="1972.82" width="14.7" height="14.7" fill="#231f20"/>
<rect x="1275.58" y="1971.9" width="14.7" height="14.7" fill="#231f20"/>
<rect x="1293.03" y="1970.23" width="14.7" height="14.7" fill="#231f20"/>
<rect x="1310.47" y="1967.83" width="14.7" height="14.7" fill="#231f20"/>
<rect x="1327.92" y="1964.74" width="14.7" height="14.7" fill="#231f20"/>
<rect x="1345.36" y="1961.01" width="14.7" height="14.7" fill="#231f20"/>
<rect x="1362.81" y="1956.66" width="14.7" height="14.7" fill="#231f20"/>
<rect x="1380.25" y="1951.75" width="14.7" height="14.7" fill="#231f20"/>
<rect x="1397.69" y="1946.37" width="14.7" height="14.7" fill="#231f20"/>
<rect x="1415.14" y="1940.94" width="14.7" height="14.7" fill="#231f20"/>
<rect x="1432.58" y="1935.94" width="14.7" height="14.7" fill="#231f20"/>
<rect x="1450.03" y="1931.63" width="14.7" height="14.7" fill="#231f20"/>
<rect x="1467.47" y="1927.49" width="14.7" height="14.7" fill="#231f20"/>
<rect x="1484.92" y="1923.07" width="14.7" height="14.7" fill="#231f20"/>
<rect x="1502.36" y="1918.87" width="14.7" height="14.7" fill="#231f20"/>
<rect x="1519.81" y="1915.57" width="14.7" height="14.7" fill="#231f20"/>
<rect x="1537.25" y="1913.88" width="14.7" height="14.7" fill="#231f20"/>
<path d="M288.6 2498.2 L306.04 2498.38 L323.49 2493.67 L340.93 2484.85 L358.38 2472.77 L375.82 2458.29 L393.27 2441.36 L410.71 2418.28 L428.16 2390.71 L445.6 2370.49 L463.04 2347.4 L480.49 2320.62 L497.93 2291.34 L515.38 2260.72 L532.82 2229.67 L550.27 2198.77 L567.71 2167.49 L585.16 2135.37 L602.6 2103.18 L620.04 2071.82 L637.49 2041.53 L654.93 2012.36 L672.38 1984.38 L689.82 1957.64 L707.27 1932.23 L724.71 1908.37 L742.16 1886.32 L759.6 1866.32 L777.04 1848.57 L794.49 1833.06 L811.93 1819.72 L829.38 1808.49 L846.82 1799.29 L864.27 1792.06 L881.71 1786.74 L899.16 1783.26 L916.6 1781.55 L934.04 1781.53 L951.49 1783.07 L968.93 1786.03 L986.38 1790.27 L1003.82 1795.65 L1021.27 1802.01 L1038.71 1809.23 L1056.16 1817.15 L1073.6 1825.63 L1091.04 1834.51 L1108.49 1843.59 L1125.93 1852.63 L1143.38 1861.41 L1160.82 1869.7 L1178.27 1877.32 L1195.71 1884.28 L1213.16 1890.65 L1230.6 1896.49 L1248.04 1901.81 L1265.49 1906.55 L1282.93 1910.58 L1300.38 1913.81 L1317.82 1916.12 L1335.27 1917.43 L1352.71 1917.85 L1370.16 1917.47 L1387.6 1916.42 L1405.04 1914.8 L1422.49 1912.68 L1439.93 1910.12 L1457.38 1907.17 L1474.82 1903.89 L1492.27 1900.34 L1509.71 1896.57 L1527.16 1892.64 L1544.6 1888.61" fill="none" stroke="#ed1c24" stroke-width="5.6" stroke-linejoin="round"/>
<circle cx="288.6" cy="2498.2" r="8.8" fill="#ed1c24"/>
<circle cx="306.04" cy="2498.38" r="8.8" fill="#ed1c24"/>
<circle cx="323.49" cy="2493.67" r="8.8" fill="#ed1c24"/>
<circle cx="340.93" cy="2484.85" r="8.8" fill="#ed1c24"/>
<circle cx="358.38" cy="2472.77" r="8.8" fill="#ed1c24"/>
<circle cx="375.82" cy="2458.29" r="8.8" fill="#ed1c24"/>
<circle cx="393.27" cy="2441.36" r="8.8" fill="#ed1c24"/>
<circle cx="410.71" cy="2418.28" r="8.8" fill="#ed1c24"/>
<circle cx="428.16" cy="2390.71" r="8.8" fill="#ed1c24"/>
<circle cx="445.6" cy="2370.49" r="8.8" fill="#ed1c24"/>
<circle cx="463.04" cy="2347.4" r="8.8" fill="#ed1c24"/>
<circle cx="480.49" cy="2320.62" r="8.8" fill="#ed1c24"/>
<circle cx="497.93" cy="2291.34" r="8.8" fill="#ed1c24"/>
<circle cx="515.38" cy="2260.72" r="8.8" fill="#ed1c24"/>
<circle cx="532.82" cy="2229.67" r="8.8" fill="#ed1c24"/>
<circle cx="550.27" cy="2198.77" r="8.8" fill="#ed1c24"/>
<circle cx="567.71" cy="2167.49" r="8.8" fill="#ed1c24"/>
<circle cx="585.16" cy="2135.37" r="8.8" fill="#ed1c24"/>
<circle cx="602.6" cy="2103.18" r="8.8" fill="#ed1c24"/>
<circle cx="620.04" cy="2071.82" r="8.8" fill="#ed1c24"/>
<circle cx="637.49" cy="2041.53" r="8.8" fill="#ed1c24"/>
<circle cx="654.93" cy="2012.36" r="8.8" fill="#ed1c24"/>
<circle cx="672.38" cy="1984.38" r="8.8" fill="#ed1c24"/>
<circle cx="689.82" cy="1957.64" r="8.8" fill="#ed1c24"/>
<circle cx="707.27" cy="1932.23" r="8.8" fill="#ed1c24"/>
<circle cx="724.71" cy="1908.37" r="8.8" fill="#ed1c24"/>
<circle cx="742.16" cy="1886.32" r="8.8" fill="#ed1c24"/>
<circle cx="759.6" cy="1866.32" r="8.8" fill="#ed1c24"/>
<circle cx="777.04" cy="1848.57" r="8.8" fill="#ed1c24"/>
<circle cx="794.49" cy="1833.06" r="8.8" fill="#ed1c24"/>
<circle cx="811.93" cy="1819.72" r="8.8" fill="#ed1c24"/>
<circle cx="829.38" cy="1808.49" r="8.8" fill="#ed1c24"/>
<circle cx="846.82" cy="1799.29" r="8.8" fill="#ed1c24"/>
<circle cx="864.27" cy="1792.06" r="8.8" fill="#ed1c24"/>
<circle cx="881.71" cy="1786.74" r="8.8" fill="#ed1c24"/>
<circle cx="899.16" cy="1783.26" r="8.8" fill="#ed1c24"/>
<circle cx="916.6" cy="1781.55" r="8.8" fill="#ed1c24"/>
<circle cx="934.04" cy="1781.53" r="8.8" fill="#ed1c24"/>
<circle cx="951.49" cy="1783.07" r="8.8" fill="#ed1c24"/>
<circle cx="968.93" cy="1786.03" r="8.8" fill="#ed1c24"/>
<circle cx="986.38" cy="1790.27" r="8.8" fill="#ed1c24"/>
<circle cx="1003.82" cy="1795.65" r="8.8" fill="#ed1c24"/>
<circle cx="1021.27" cy="1802.01" r="8.8" fill="#ed1c24"/>
<circle cx="1038.71" cy="1809.23" r="8.8" fill="#ed1c24"/>
<circle cx="1056.16" cy="1817.15" r="8.8" fill="#ed1c24"/>
<circle cx="1073.6" cy="1825.63" r="8.8" fill="#ed1c24"/>
<circle cx="1091.04" cy="1834.51" r="8.8" fill="#ed1c24"/>
<circle cx="1108.49" cy="1843.59" r="8.8" fill="#ed1c24"/>
<circle cx="1125.93" cy="1852.63" r="8.8" fill="#ed1c24"/>
<circle cx="1143.38" cy="1861.41" r="8.8" fill="#ed1c24"/>
<circle cx="1160.82" cy="1869.7" r="8.8" fill="#ed1c24"/>
<circle cx="1178.27" cy="1877.32" r="8.8" fill="#ed1c24"/>
<circle cx="1195.71" cy="1884.28" r="8.8" fill="#ed1c24"/>
<circle cx="1213.16" cy="1890.65" r="8.8" fill="#ed1c24"/>
<circle cx="1230.6" cy="1896.49" r="8.8" fill="#ed1c24"/>
<circle cx="1248.04" cy="1901.81" r="8.8" fill="#ed1c24"/>
<circle cx="1265.49" cy="1906.55" r="8.8" fill="#ed1c24"/>
<circle cx="1282.93" cy="1910.58" r="8.8" fill="#ed1c24"/>
<circle cx="1300.38" cy="1913.81" r="8.8" fill="#ed1c24"/>
<circle cx="1317.82" cy="1916.12" r="8.8" fill="#ed1c24"/>
<circle cx="1335.27" cy="1917.43" r="8.8" fill="#ed1c24"/>
<circle cx="1352.71" cy="1917.85" r="8.8" fill="#ed1c24"/>
<circle cx="1370.16" cy="1917.47" r="8.8" fill="#ed1c24"/>
<circle cx="1387.6" cy="1916.42" r="8.8" fill="#ed1c24"/>
<circle cx="1405.04" cy="1914.8" r="8.8" fill="#ed1c24"/>
<circle cx="1422.49" cy="1912.68" r="8.8" fill="#ed1c24"/>
<circle cx="1439.93" cy="1910.12" r="8.8" fill="#ed1c24"/>
<circle cx="1457.38" cy="1907.17" r="8.8" fill="#ed1c24"/>
<circle cx="1474.82" cy="1903.89" r="8.8" fill="#ed1c24"/>
<circle cx="1492.27" cy="1900.34" r="8.8" fill="#ed1c24"/>
<circle cx="1509.71" cy="1896.57" r="8.8" fill="#ed1c24"/>
<circle cx="1527.16" cy="1892.64" r="8.8" fill="#ed1c24"/>
<circle cx="1544.6" cy="1888.61" r="8.8" fill="#ed1c24"/>
<path d="M288.6 2498.2 L306.04 2499.33 L323.49 2494.01 L340.93 2487.27 L358.38 2477.79 L375.82 2466.63 L393.27 2453.67 L410.71 2438.96 L428.16 2422.77 L445.6 2405.36 L463.04 2386.97 L480.49 2367.74 L497.93 2347.81 L515.38 2327.28 L532.82 2306.3 L550.27 2285.06 L567.71 2264.1 L585.16 2243.62 L602.6 2222.1 L620.04 2199.39 L637.49 2179.74 L654.93 2161.54 L672.38 2143.1 L689.82 2125.04 L707.27 2108.28 L724.71 2092.81 L742.16 2078.38 L759.6 2064.74 L777.04 2051.4 L794.49 2038.4 L811.93 2028.86 L829.38 2019.73 L846.82 2010.78 L864.27 2002.84 L881.71 1996.05 L899.16 1990.34 L916.6 1985.57 L934.04 1981.59 L951.49 1978.36 L968.93 1975.89 L986.38 1974.19 L1003.82 1973.26 L1021.27 1973.08 L1038.71 1973.58 L1056.16 1974.62 L1073.6 1976.1 L1091.04 1977.91 L1108.49 1980.05 L1125.93 1982.5 L1143.38 1985.26 L1160.82 1988.33 L1178.27 1991.7 L1195.71 1995.37 L1213.16 1999.34 L1230.6 2003.61 L1248.04 2008.13 L1265.49 2012.82 L1282.93 2017.54 L1300.38 2022.17 L1317.82 2026.58 L1335.27 2030.71 L1352.71 2034.77 L1370.16 2039.02 L1387.6 2043.73 L1405.04 2048.78 L1422.49 2052.74 L1439.93 2055.21 L1457.38 2059.27 L1474.82 2063.63 L1492.27 2066.42 L1509.71 2068.46 L1527.16 2071.15 L1544.6 2075.88" fill="none" stroke="#009444" stroke-width="5.6" stroke-linejoin="round"/>
<rect x="281.3" y="2490.9" width="14.6" height="14.6" fill="#fff" stroke="#009444" stroke-width="4.6"/>
<rect x="298.74" y="2492.03" width="14.6" height="14.6" fill="#fff" stroke="#009444" stroke-width="4.6"/>
<rect x="316.19" y="2486.71" width="14.6" height="14.6" fill="#fff" stroke="#009444" stroke-width="4.6"/>
<rect x="333.63" y="2479.97" width="14.6" height="14.6" fill="#fff" stroke="#009444" stroke-width="4.6"/>
<rect x="351.08" y="2470.49" width="14.6" height="14.6" fill="#fff" stroke="#009444" stroke-width="4.6"/>
<rect x="368.52" y="2459.33" width="14.6" height="14.6" fill="#fff" stroke="#009444" stroke-width="4.6"/>
<rect x="385.97" y="2446.37" width="14.6" height="14.6" fill="#fff" stroke="#009444" stroke-width="4.6"/>
<rect x="403.41" y="2431.66" width="14.6" height="14.6" fill="#fff" stroke="#009444" stroke-width="4.6"/>
<rect x="420.86" y="2415.47" width="14.6" height="14.6" fill="#fff" stroke="#009444" stroke-width="4.6"/>
<rect x="438.3" y="2398.06" width="14.6" height="14.6" fill="#fff" stroke="#009444" stroke-width="4.6"/>
<rect x="455.74" y="2379.67" width="14.6" height="14.6" fill="#fff" stroke="#009444" stroke-width="4.6"/>
<rect x="473.19" y="2360.44" width="14.6" height="14.6" fill="#fff" stroke="#009444" stroke-width="4.6"/>
<rect x="490.63" y="2340.51" width="14.6" height="14.6" fill="#fff" stroke="#009444" stroke-width="4.6"/>
<rect x="508.08" y="2319.98" width="14.6" height="14.6" fill="#fff" stroke="#009444" stroke-width="4.6"/>
<rect x="525.52" y="2299" width="14.6" height="14.6" fill="#fff" stroke="#009444" stroke-width="4.6"/>
<rect x="542.97" y="2277.76" width="14.6" height="14.6" fill="#fff" stroke="#009444" stroke-width="4.6"/>
<rect x="560.41" y="2256.8" width="14.6" height="14.6" fill="#fff" stroke="#009444" stroke-width="4.6"/>
<rect x="577.86" y="2236.32" width="14.6" height="14.6" fill="#fff" stroke="#009444" stroke-width="4.6"/>
<rect x="595.3" y="2214.8" width="14.6" height="14.6" fill="#fff" stroke="#009444" stroke-width="4.6"/>
<rect x="612.74" y="2192.09" width="14.6" height="14.6" fill="#fff" stroke="#009444" stroke-width="4.6"/>
<rect x="630.19" y="2172.44" width="14.6" height="14.6" fill="#fff" stroke="#009444" stroke-width="4.6"/>
<rect x="647.63" y="2154.24" width="14.6" height="14.6" fill="#fff" stroke="#009444" stroke-width="4.6"/>
<rect x="665.08" y="2135.8" width="14.6" height="14.6" fill="#fff" stroke="#009444" stroke-width="4.6"/>
<rect x="682.52" y="2117.74" width="14.6" height="14.6" fill="#fff" stroke="#009444" stroke-width="4.6"/>
<rect x="699.97" y="2100.98" width="14.6" height="14.6" fill="#fff" stroke="#009444" stroke-width="4.6"/>
<rect x="717.41" y="2085.51" width="14.6" height="14.6" fill="#fff" stroke="#009444" stroke-width="4.6"/>
<rect x="734.86" y="2071.08" width="14.6" height="14.6" fill="#fff" stroke="#009444" stroke-width="4.6"/>
<rect x="752.3" y="2057.44" width="14.6" height="14.6" fill="#fff" stroke="#009444" stroke-width="4.6"/>
<rect x="769.74" y="2044.1" width="14.6" height="14.6" fill="#fff" stroke="#009444" stroke-width="4.6"/>
<rect x="787.19" y="2031.1" width="14.6" height="14.6" fill="#fff" stroke="#009444" stroke-width="4.6"/>
<rect x="804.63" y="2021.56" width="14.6" height="14.6" fill="#fff" stroke="#009444" stroke-width="4.6"/>
<rect x="822.08" y="2012.43" width="14.6" height="14.6" fill="#fff" stroke="#009444" stroke-width="4.6"/>
<rect x="839.52" y="2003.48" width="14.6" height="14.6" fill="#fff" stroke="#009444" stroke-width="4.6"/>
<rect x="856.97" y="1995.54" width="14.6" height="14.6" fill="#fff" stroke="#009444" stroke-width="4.6"/>
<rect x="874.41" y="1988.75" width="14.6" height="14.6" fill="#fff" stroke="#009444" stroke-width="4.6"/>
<rect x="891.86" y="1983.04" width="14.6" height="14.6" fill="#fff" stroke="#009444" stroke-width="4.6"/>
<rect x="909.3" y="1978.27" width="14.6" height="14.6" fill="#fff" stroke="#009444" stroke-width="4.6"/>
<rect x="926.74" y="1974.29" width="14.6" height="14.6" fill="#fff" stroke="#009444" stroke-width="4.6"/>
<rect x="944.19" y="1971.06" width="14.6" height="14.6" fill="#fff" stroke="#009444" stroke-width="4.6"/>
<rect x="961.63" y="1968.59" width="14.6" height="14.6" fill="#fff" stroke="#009444" stroke-width="4.6"/>
<rect x="979.08" y="1966.89" width="14.6" height="14.6" fill="#fff" stroke="#009444" stroke-width="4.6"/>
<rect x="996.52" y="1965.96" width="14.6" height="14.6" fill="#fff" stroke="#009444" stroke-width="4.6"/>
<rect x="1013.97" y="1965.78" width="14.6" height="14.6" fill="#fff" stroke="#009444" stroke-width="4.6"/>
<rect x="1031.41" y="1966.28" width="14.6" height="14.6" fill="#fff" stroke="#009444" stroke-width="4.6"/>
<rect x="1048.86" y="1967.32" width="14.6" height="14.6" fill="#fff" stroke="#009444" stroke-width="4.6"/>
<rect x="1066.3" y="1968.8" width="14.6" height="14.6" fill="#fff" stroke="#009444" stroke-width="4.6"/>
<rect x="1083.74" y="1970.61" width="14.6" height="14.6" fill="#fff" stroke="#009444" stroke-width="4.6"/>
<rect x="1101.19" y="1972.75" width="14.6" height="14.6" fill="#fff" stroke="#009444" stroke-width="4.6"/>
<rect x="1118.63" y="1975.2" width="14.6" height="14.6" fill="#fff" stroke="#009444" stroke-width="4.6"/>
<rect x="1136.08" y="1977.96" width="14.6" height="14.6" fill="#fff" stroke="#009444" stroke-width="4.6"/>
<rect x="1153.52" y="1981.03" width="14.6" height="14.6" fill="#fff" stroke="#009444" stroke-width="4.6"/>
<rect x="1170.97" y="1984.4" width="14.6" height="14.6" fill="#fff" stroke="#009444" stroke-width="4.6"/>
<rect x="1188.41" y="1988.07" width="14.6" height="14.6" fill="#fff" stroke="#009444" stroke-width="4.6"/>
<rect x="1205.86" y="1992.04" width="14.6" height="14.6" fill="#fff" stroke="#009444" stroke-width="4.6"/>
<rect x="1223.3" y="1996.31" width="14.6" height="14.6" fill="#fff" stroke="#009444" stroke-width="4.6"/>
<rect x="1240.74" y="2000.83" width="14.6" height="14.6" fill="#fff" stroke="#009444" stroke-width="4.6"/>
<rect x="1258.19" y="2005.52" width="14.6" height="14.6" fill="#fff" stroke="#009444" stroke-width="4.6"/>
<rect x="1275.63" y="2010.24" width="14.6" height="14.6" fill="#fff" stroke="#009444" stroke-width="4.6"/>
<rect x="1293.08" y="2014.87" width="14.6" height="14.6" fill="#fff" stroke="#009444" stroke-width="4.6"/>
<rect x="1310.52" y="2019.28" width="14.6" height="14.6" fill="#fff" stroke="#009444" stroke-width="4.6"/>
<rect x="1327.97" y="2023.41" width="14.6" height="14.6" fill="#fff" stroke="#009444" stroke-width="4.6"/>
<rect x="1345.41" y="2027.47" width="14.6" height="14.6" fill="#fff" stroke="#009444" stroke-width="4.6"/>
<rect x="1362.86" y="2031.72" width="14.6" height="14.6" fill="#fff" stroke="#009444" stroke-width="4.6"/>
<rect x="1380.3" y="2036.43" width="14.6" height="14.6" fill="#fff" stroke="#009444" stroke-width="4.6"/>
<rect x="1397.74" y="2041.48" width="14.6" height="14.6" fill="#fff" stroke="#009444" stroke-width="4.6"/>
<rect x="1415.19" y="2045.44" width="14.6" height="14.6" fill="#fff" stroke="#009444" stroke-width="4.6"/>
<rect x="1432.63" y="2047.91" width="14.6" height="14.6" fill="#fff" stroke="#009444" stroke-width="4.6"/>
<rect x="1450.08" y="2051.97" width="14.6" height="14.6" fill="#fff" stroke="#009444" stroke-width="4.6"/>
<rect x="1467.52" y="2056.33" width="14.6" height="14.6" fill="#fff" stroke="#009444" stroke-width="4.6"/>
<rect x="1484.97" y="2059.12" width="14.6" height="14.6" fill="#fff" stroke="#009444" stroke-width="4.6"/>
<rect x="1502.41" y="2061.16" width="14.6" height="14.6" fill="#fff" stroke="#009444" stroke-width="4.6"/>
<rect x="1519.86" y="2063.85" width="14.6" height="14.6" fill="#fff" stroke="#009444" stroke-width="4.6"/>
<rect x="1537.3" y="2068.58" width="14.6" height="14.6" fill="#fff" stroke="#009444" stroke-width="4.6"/>
<text transform="translate(1265.56 2238.4) scale(0.915 1)" x="0" y="0" font-family="'Liberation Serif', 'Times New Roman', serif" font-size="85.2" font-weight="bold" fill="#231f20">Ω</text>
<text x="1325.3" y="2237.9" font-family="'Liberation Sans', Arial, Helvetica, sans-serif" font-size="75" font-weight="bold" text-anchor="start" fill="#231f20">/</text>
<text x="1348.9" y="2237.9" font-family="'Liberation Sans', Arial, Helvetica, sans-serif" font-size="75" font-weight="bold" text-anchor="start" fill="#231f20">kHz</text>
<line x1="1211.2" y1="2283" x2="1346" y2="2283" stroke="#231f20" stroke-width="5.8"/>
<rect x="1271" y="2275.6" width="14.8" height="14.8" fill="#231f20"/>
<text transform="translate(1368.9 2299.8) scale(1 1.03)" x="0" y="0" font-family="'Liberation Sans', Arial, Helvetica, sans-serif" font-size="67.5" font-weight="bold" text-anchor="start" fill="#231f20">–1.0</text>
<line x1="1211.2" y1="2356.2" x2="1346" y2="2356.2" stroke="#ed1c24" stroke-width="5.8"/>
<circle cx="1278.4" cy="2356.2" r="8.7" fill="#ed1c24"/>
<text transform="translate(1368.9 2374.8) scale(1 1.03)" x="0" y="0" font-family="'Liberation Sans', Arial, Helvetica, sans-serif" font-size="67.5" font-weight="bold" text-anchor="start" fill="#231f20">–2.0</text>
<line x1="1211.2" y1="2430" x2="1346" y2="2430" stroke="#009444" stroke-width="5.8"/>
<rect x="1271.2" y="2422.8" width="14.4" height="14.4" fill="#fff" stroke="#009444" stroke-width="4.2"/>
<text transform="translate(1368.9 2449.1) scale(1 1.03)" x="0" y="0" font-family="'Liberation Sans', Arial, Helvetica, sans-serif" font-size="67.5" font-weight="bold" text-anchor="start" fill="#231f20">–3.0</text>
</svg></body></html>
